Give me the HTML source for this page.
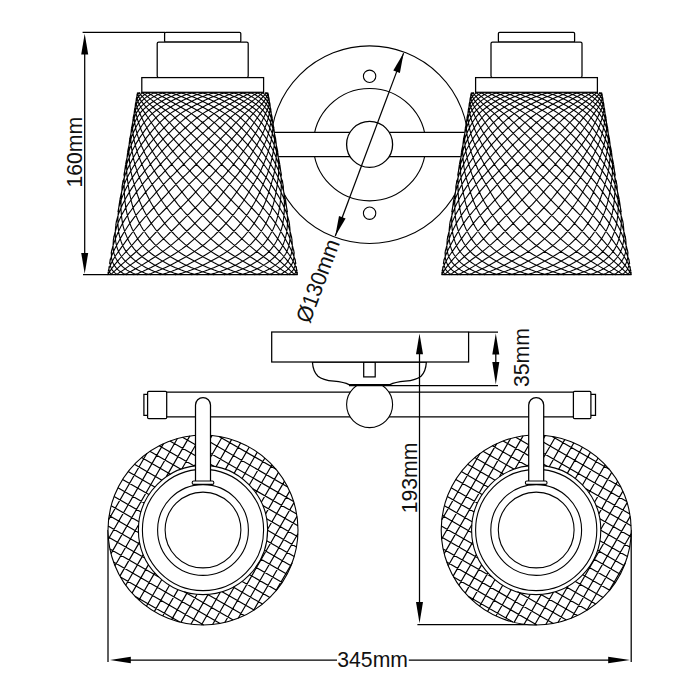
<!DOCTYPE html>
<html lang="en">
<head>
<meta charset="utf-8">
<title>Dimension drawing</title>
<style>
html,body{margin:0;padding:0;background:#fff;}
body{width:700px;height:700px;overflow:hidden;}
svg{display:block;}
</style>
</head>
<body>
<svg width="700" height="700" viewBox="0 0 700 700">
<rect width="700" height="700" fill="#fff"/>
<g fill="none" stroke="#000" stroke-width="1.25" stroke-linecap="butt" stroke-linejoin="miter">
<circle stroke-width="1.1" cx="369.6" cy="144.7" r="98.8"/>
<circle stroke-width="1.1" cx="369.6" cy="144.7" r="56.2"/>
<rect x="270" y="132.3" width="200" height="24.3" fill="#fff" stroke="none"/>
<path d="M270,132.3H470M270,156.6H470"/>
<circle stroke-width="1.3" cx="369.6" cy="144.4" r="23" fill="#fff"/>
<circle stroke-width="1.1" cx="369.6" cy="76.3" r="6.2"/>
<circle stroke-width="1.1" cx="369.6" cy="213.2" r="6.2"/>
<path d="M403.6,53.1L335.3,236"/>
<g>
<path d="M137.3,92.5 L268.1,92.5 L297.7,274.7 L107.7,274.7 Z" fill="#fff" stroke="none"/>
<path stroke="#000" stroke-width="1.1" d="M108.1,272 108.1,274.3 108.5,274.7M109.1,266.2 108.9,268.8 109.3,271.3 110.3,273.4 112,274.7M110.3,258.9 110,261.1 110,262.8 110.2,264.4 110.5,265.9 110.9,267.4 111.5,268.8 112.3,270.1 114.3,272.3 115.4,273.4 116.8,274.3 118.2,274.7M111.8,249.5 111.5,251.4 111.4,253.5 111.4,255.5 111.5,257.5 111.8,259.3 112.3,261.1 112.9,262.8 113.7,264.4 114.7,265.9 115.8,267.4 117,268.8 118.4,270.1 119.8,271.3 121.5,272.3 123.2,273.4 125,274.3 127,274.7M113.9,236.7 113.6,238.6 113.3,241.4 113.1,244.2 113.1,246.7 113.2,249.1 113.5,251.4 114,253.5 114.6,255.5 115.4,257.5 116.4,259.3 117.5,261.1 118.7,262.8 120.1,264.4 121.7,265.9 123.3,267.4 125.1,268.8 127,270.1 129,271.3 131.1,272.3 133.4,273.4 135.7,274.3 138.1,274.7M116.5,220.5 116.1,223.1 115.7,226.3 115.4,229.5 115.3,232.5 115.3,235.6 115.4,238.6 115.7,241.4 116.2,244.2 116.8,246.7 117.6,249.1 118.5,251.4 119.5,253.5 120.8,255.5 122.2,257.5 123.7,259.3 125.4,261.1 127.2,262.8 129.1,264.4 131.2,265.9 133.4,267.4 135.6,268.8 138,270.1 140.5,271.3 143,272.3 145.6,273.4 148.3,274.3 151.1,274.7M119.9,199.8 119.2,204.3 118.8,207.4 118.5,210.5 118.2,213.6 118,216.7 117.9,219.9 117.9,223.1 118.1,226.3 118.4,229.5 118.8,232.5 119.4,235.6 120.2,238.6 121.1,241.4 122.1,244.2 123.3,246.7 124.6,249.1 126.1,251.4 127.8,253.5 129.6,255.5 131.5,257.5 133.6,259.3 135.7,261.1 138,262.8 140.5,264.4 143,265.9 145.6,267.4 148.2,268.8 151,270.1 153.8,271.3 156.7,272.3 159.7,273.4 162.7,274.3 165.7,274.7M123,180.3 122.7,182.7 122.3,185.6 122,188.6 121.7,191.7 121.4,194.9 121.2,198 121.1,201.2 121,204.3 121,207.4 121.1,210.5 121.3,213.6 121.6,216.7 122,219.9 122.5,223.1 123.2,226.3 124.1,229.5 125.1,232.5 126.3,235.6 127.6,238.6 129.1,241.4 130.7,244.2 132.4,246.7 134.3,249.1 136.3,251.4 138.4,253.5 140.7,255.5 143.1,257.5 145.6,259.3 148.2,261.1 150.9,262.8 153.7,264.4 156.6,265.9 159.5,267.4 162.5,268.8 165.6,270.1 168.7,271.3 171.8,272.3 175,273.4 178.2,274.3 181.4,274.7M125.6,164.3 125.3,166.5 124.9,169.2 124.6,171.9 124.4,174.6 124.3,177.2 124.2,179.9 124.2,182.7 124.2,185.6 124.2,188.6 124.3,191.7 124.5,194.9 124.7,198 125,201.2 125.4,204.3 125.8,207.4 126.4,210.5 127,213.6 127.8,216.7 128.7,219.9 129.8,223.1 131,226.3 132.4,229.5 134,232.5 135.7,235.6 137.5,238.6 139.5,241.4 141.6,244.2 143.8,246.7 146.2,249.1 148.6,251.4 151.2,253.5 153.9,255.5 156.7,257.5 159.5,259.3 162.5,261.1 165.5,262.8 168.6,264.4 171.7,265.9 174.9,267.4 178.1,268.8 181.3,270.1 184.6,271.3 187.8,272.3 191.1,273.4 194.4,274.3 197.7,274.7M127.9,150.2 127.5,153.4 127.2,156 127,158.6 126.8,161.2 126.7,163.9 126.7,166.5 126.7,169.2 126.8,171.9 126.9,174.6 127.2,177.2 127.5,179.9 127.9,182.7 128.3,185.6 128.8,188.6 129.3,191.7 129.9,194.9 130.6,198 131.3,201.2 132.1,204.3 133,207.4 134,210.5 135.2,213.6 136.5,216.7 137.9,219.9 139.4,223.1 141.1,226.3 143,229.5 145.1,232.5 147.3,235.6 149.6,238.6 152,241.4 154.5,244.2 157.2,246.7 159.9,249.1 162.7,251.4 165.6,253.5 168.6,255.5 171.7,257.5 174.8,259.3 178,261.1 181.2,262.8 184.5,264.4 187.8,265.9 191.1,267.4 194.4,268.8 197.7,270.1 201,271.3 204.3,272.3 207.6,273.4 210.9,274.3 214.2,274.7M129.9,138.2 129.5,141.1 129.2,143.4 129.1,145.9 129,148.3 128.9,150.8 129,153.4 129.1,156 129.3,158.6 129.5,161.2 129.8,163.9 130.1,166.5 130.5,169.2 131,171.9 131.6,174.6 132.2,177.2 133,179.9 133.8,182.7 134.6,185.6 135.5,188.6 136.5,191.7 137.5,194.9 138.6,198 139.7,201.2 141,204.3 142.4,207.4 143.9,210.5 145.5,213.6 147.2,216.7 149.1,219.9 151.1,223.1 153.3,226.3 155.6,229.5 158.1,232.5 160.7,235.6 163.4,238.6 166.2,241.4 169.1,244.2 172,246.7 175,249.1 178.1,251.4 181.3,253.5 184.5,255.5 187.7,257.5 191,259.3 194.3,261.1 197.6,262.8 201,264.4 204.3,265.9 207.6,267.4 210.9,268.8 214.2,270.1 217.5,271.3 220.8,272.3 224,273.4 227.2,274.3 230.4,274.7M131.7,127.1 131.3,129.7 131.1,131.9 130.9,134.2 130.9,136.4 130.9,138.7 130.9,141.1 131.1,143.4 131.3,145.9 131.6,148.3 132,150.8 132.5,153.4 133,156 133.5,158.6 134.1,161.2 134.8,163.9 135.6,166.5 136.4,169.2 137.3,171.9 138.2,174.6 139.3,177.2 140.4,179.9 141.6,182.7 142.9,185.6 144.2,188.6 145.6,191.7 147,194.9 148.5,198 150.1,201.2 151.8,204.3 153.7,207.4 155.6,210.5 157.6,213.6 159.8,216.7 162.1,219.9 164.5,223.1 167.1,226.3 169.8,229.5 172.6,232.5 175.5,235.6 178.5,238.6 181.6,241.4 184.7,244.2 187.8,246.7 191.1,249.1 194.3,251.4 197.6,253.5 200.9,255.5 204.2,257.5 207.6,259.3 210.9,261.1 214.2,262.8 217.5,264.4 220.8,265.9 224,267.4 227.2,268.8 230.4,270.1 233.6,271.3 236.7,272.3 239.7,273.4 242.7,274.3 245.7,274.7M133.3,117.3 133,119.3 132.8,121.3 132.7,123.2 132.6,125.3 132.6,127.5 132.7,129.7 132.9,131.9 133.1,134.2 133.5,136.4 133.9,138.7 134.3,141.1 134.9,143.4 135.5,145.9 136.2,148.3 137,150.8 137.8,153.4 138.7,156 139.7,158.6 140.7,161.2 141.7,163.9 142.9,166.5 144,169.2 145.3,171.9 146.7,174.6 148.1,177.2 149.6,179.9 151.2,182.7 152.9,185.6 154.6,188.6 156.4,191.7 158.2,194.9 160.1,198 162.1,201.2 164.2,204.3 166.5,207.4 168.8,210.5 171.2,213.6 173.8,216.7 176.4,219.9 179.2,223.1 182.1,226.3 185.1,229.5 188.1,232.5 191.2,235.6 194.4,238.6 197.6,241.4 200.9,244.2 204.2,246.7 207.5,249.1 210.8,251.4 214.1,253.5 217.4,255.5 220.7,257.5 224,259.3 227.2,261.1 230.4,262.8 233.6,264.4 236.7,265.9 239.8,267.4 242.8,268.8 245.7,270.1 248.7,271.3 251.5,272.3 254.3,273.4 257,274.3 259.7,274.7M134.5,109.9 134.2,112.6 134.2,115.7 134.2,117.5 134.3,119.3 134.5,121.3 134.8,123.2 135.2,125.3 135.6,127.5 136,129.7 136.6,131.9 137.2,134.2 137.9,136.4 138.7,138.7 139.6,141.1 140.5,143.4 141.5,145.9 142.6,148.3 143.7,150.8 144.9,153.4 146.2,156 147.5,158.6 148.9,161.2 150.3,163.9 151.8,166.5 153.3,169.2 155,171.9 156.7,174.6 158.5,177.2 160.3,179.9 162.3,182.7 164.3,185.6 166.4,188.6 168.5,191.7 170.7,194.9 173,198 175.4,201.2 177.8,204.3 180.4,207.4 183,210.5 185.8,213.6 188.7,216.7 191.6,219.9 194.6,223.1 197.7,226.3 200.9,229.5 204.1,232.5 207.3,235.6 210.6,238.6 213.9,241.4 217.2,244.2 220.5,246.7 223.7,249.1 227,251.4 230.2,253.5 233.4,255.5 236.6,257.5 239.7,259.3 242.7,261.1 245.7,262.8 248.7,264.4 251.5,265.9 254.3,267.4 257.1,268.8 259.7,270.1 262.3,271.3 264.9,272.3 267.3,273.4 269.7,274.3 272,274.7M135.4,104 135.2,106.2 135.3,108.7 135.6,111.2 136.2,114.1 136.6,115.7 137,117.5 137.5,119.3 138.1,121.3 138.8,123.2 139.5,125.3 140.3,127.5 141.1,129.7 142,131.9 143,134.2 144.1,136.4 145.3,138.7 146.5,141.1 147.8,143.4 149.1,145.9 150.6,148.3 152.1,150.8 153.6,153.4 155.2,156 156.9,158.6 158.6,161.2 160.3,163.9 162.1,166.5 164,169.2 166,171.9 168,174.6 170.1,177.2 172.3,179.9 174.5,182.7 176.9,185.6 179.2,188.6 181.7,191.7 184.2,194.9 186.7,198 189.4,201.2 192.2,204.3 195,207.4 197.9,210.5 200.9,213.6 204,216.7 207.1,219.9 210.3,223.1 213.5,226.3 216.8,229.5 220,232.5 223.3,235.6 226.5,238.6 229.8,241.4 233,244.2 236.2,246.7 239.3,249.1 242.4,251.4 245.5,253.5 248.5,255.5 251.4,257.5 254.2,259.3 257,261.1 259.7,262.8 262.3,264.4 264.8,265.9 267.3,267.4 269.7,268.8 272,270.1 274.2,271.3 276.3,272.3 278.4,273.4 280.4,274.3 282.2,274.7M136.3,98.8 136.1,100.6 136.2,102.8 136.5,105.1 137.2,107.5 138.1,109.9 139.4,112.6 140.1,114.1 140.8,115.7 141.6,117.5 142.5,119.3 143.4,121.3 144.5,123.2 145.5,125.3 146.7,127.5 147.9,129.7 149.1,131.9 150.5,134.2 151.9,136.4 153.4,138.7 154.9,141.1 156.5,143.4 158.2,145.9 159.9,148.3 161.7,150.8 163.6,153.4 165.5,156 167.4,158.6 169.4,161.2 171.5,163.9 173.6,166.5 175.7,169.2 178,171.9 180.3,174.6 182.6,177.2 185.1,179.9 187.6,182.7 190.1,185.6 192.8,188.6 195.4,191.7 198.2,194.9 201,198 203.9,201.2 206.8,204.3 209.9,207.4 213,210.5 216.1,213.6 219.3,216.7 222.5,219.9 225.8,223.1 229,226.3 232.2,229.5 235.4,232.5 238.5,235.6 241.7,238.6 244.7,241.4 247.8,244.2 250.8,246.7 253.7,249.1 256.5,251.4 259.3,253.5 262,255.5 264.6,257.5 267.1,259.3 269.5,261.1 271.8,262.8 274.1,264.4 276.2,265.9 278.3,267.4 280.2,268.8 282.1,270.1 283.9,271.3 285.6,272.3 287.1,273.4 288.6,274.3 290,274.7M137,94.6 136.9,96.7 137.1,98.6 137.7,100.6 138.5,102.8 139.6,105.1 141,107.5 142.6,109.9 143.6,111.2 144.6,112.6 145.6,114.1 146.7,115.7 147.9,117.5 149.1,119.3 150.4,121.3 151.7,123.2 153.1,125.3 154.6,127.5 156.1,129.7 157.7,131.9 159.3,134.2 161,136.4 162.8,138.7 164.6,141.1 166.5,143.4 168.5,145.9 170.5,148.3 172.5,150.8 174.6,153.4 176.8,156 179,158.6 181.2,161.2 183.5,163.9 185.8,166.5 188.2,169.2 190.7,171.9 193.2,174.6 195.7,177.2 198.4,179.9 201,182.7 203.8,185.6 206.6,188.6 209.4,191.7 212.3,194.9 215.3,198 218.3,201.2 221.4,204.3 224.5,207.4 227.7,210.5 230.9,213.6 234.1,216.7 237.3,219.9 240.5,223.1 243.6,226.3 246.7,229.5 249.7,232.5 252.6,235.6 255.5,238.6 258.3,241.4 261.1,244.2 263.8,246.7 266.4,249.1 268.9,251.4 271.3,253.5 273.6,255.5 275.8,257.5 277.9,259.3 279.9,261.1 281.8,262.8 283.6,264.4 285.3,265.9 286.9,267.4 288.4,268.8 289.8,270.1 291.1,271.3 292.2,272.3 293.3,273.4 295.2,274.7M137.3,92.5 137.8,94.3 138.4,95.9 139.2,97.6 140.3,99.6 141.7,101.7 143.4,103.9 145.3,106.2 146.4,107.5 147.5,108.7 148.7,109.9 150,111.2 151.3,112.6 152.7,114.1 154.1,115.7 155.6,117.5 157.1,119.3 158.7,121.3 160.3,123.2 162,125.3 163.7,127.5 165.5,129.7 167.4,131.9 169.3,134.2 171.3,136.4 173.3,138.7 175.4,141.1 177.5,143.4 179.7,145.9 181.9,148.3 184.1,150.8 186.4,153.4 188.8,156 191.1,158.6 193.6,161.2 196,163.9 198.5,166.5 201.1,169.2 203.7,171.9 206.4,174.6 209.1,177.2 211.8,179.9 214.6,182.7 217.4,185.6 220.3,188.6 223.2,191.7 226.2,194.9 229.2,198 232.3,201.2 235.4,204.3 238.5,207.4 241.6,210.5 244.7,213.6 247.8,216.7 250.9,219.9 253.9,223.1 256.8,226.3 259.7,229.5 262.4,232.5 265,235.6 267.6,238.6 270.1,241.4 272.5,244.2 274.8,246.7 277,249.1 279.1,251.4 281.1,253.5 282.9,255.5 284.7,257.5 286.3,259.3 287.8,261.1 289.2,262.8 290.5,264.4 291.7,265.9 292.8,267.4 293.8,268.8 294.7,270.1 296.2,272.3 297.3,274.3 297.5,274.7M138.4,92.5 139.8,93.6 140.9,95.1 142.4,96.7 144.1,98.6 146,100.6 147.1,101.7 148.2,102.8 149.4,103.9 150.7,105.1 152,106.2 153.4,107.5 154.8,108.7 156.3,109.9 157.9,111.2 159.5,112.6 161.1,114.1 162.8,115.7 164.6,117.5 166.3,119.3 168.2,121.3 170.1,123.2 172,125.3 174,127.5 176,129.7 178.1,131.9 180.2,134.2 182.4,136.4 184.6,138.7 186.8,141.1 189.1,143.4 191.5,145.9 193.8,148.3 196.2,150.8 198.7,153.4 201.1,156 203.6,158.6 206.2,161.2 208.7,163.9 211.4,166.5 214,169.2 216.7,171.9 219.4,174.6 222.2,177.2 225,179.9 227.8,182.7 230.6,185.6 233.5,188.6 236.4,191.7 239.3,194.9 242.3,198 245.3,201.2 248.3,204.3 251.3,207.4 254.3,210.5 257.2,213.6 260.1,216.7 262.9,219.9 265.7,223.1 268.3,226.3 270.8,229.5 273.1,232.5 275.4,235.6 277.6,238.6 279.7,241.4 281.6,244.2 283.5,246.7 285.2,249.1 286.8,251.4 288.3,253.5 289.7,255.5 290.9,257.5 292,259.3 293,261.1 293.9,262.8 294.7,264.4 295.4,265.9 296,267.4 296.9,270.1 297.2,271.6M141.3,92.5 142.8,93.1 144.6,94.3 146.6,95.9 148.8,97.6 150,98.6 151.2,99.6 152.6,100.6 153.9,101.7 155.4,102.8 156.9,103.9 158.4,105.1 160,106.2 161.7,107.5 163.4,108.7 165.1,109.9 166.9,111.2 168.8,112.6 170.7,114.1 172.6,115.7 174.6,117.5 176.6,119.3 178.6,121.3 180.7,123.2 182.8,125.3 185,127.5 187.2,129.7 189.4,131.9 191.7,134.2 194,136.4 196.4,138.7 198.7,141.1 201.1,143.4 203.6,145.9 206,148.3 208.5,150.8 211,153.4 213.5,156 216.1,158.6 218.7,161.2 221.3,163.9 223.9,166.5 226.6,169.2 229.3,171.9 232,174.6 234.8,177.2 237.5,179.9 240.2,182.7 243,185.6 245.7,188.6 248.6,191.7 251.4,194.9 254.3,198 257.1,201.2 259.9,204.3 262.6,207.4 265.4,210.5 268,213.6 270.6,216.7 273,219.9 275.4,223.1 277.6,226.3 279.6,229.5 281.6,232.5 283.4,235.6 285.1,238.6 286.7,241.4 288.2,244.2 289.5,246.7 290.7,249.1 291.8,251.4 292.7,253.5 293.6,255.5 294.3,257.5 294.9,259.3 295.4,261.1 295.7,262.8 295.9,263.8M145.8,92.5 148,93.1 150.4,94.3 153,95.9 154.4,96.7 155.9,97.6 157.4,98.6 158.9,99.6 160.5,100.6 162.1,101.7 163.8,102.8 165.6,103.9 167.4,105.1 169.2,106.2 171.1,107.5 173,108.7 175,109.9 177,111.2 179,112.6 181.1,114.1 183.2,115.7 185.3,117.5 187.5,119.3 189.7,121.3 191.9,123.2 194.2,125.3 196.5,127.5 198.8,129.7 201.1,131.9 203.5,134.2 205.9,136.4 208.3,138.7 210.7,141.1 213.2,143.4 215.6,145.9 218.1,148.3 220.6,150.8 223.1,153.4 225.6,156 228.2,158.6 230.7,161.2 233.3,163.9 235.9,166.5 238.6,169.2 241.2,171.9 243.8,174.6 246.4,177.2 249,179.9 251.6,182.7 254.2,185.6 256.8,188.6 259.4,191.7 262,194.9 264.6,198 267.2,201.2 269.7,204.3 272.1,207.4 274.4,210.5 276.7,213.6 278.8,216.7 280.8,219.9 282.7,223.1 284.4,226.3 286,229.5 287.4,232.5 288.7,235.6 289.9,238.6 290.9,241.4 291.9,244.2 292.7,246.7 293.3,249.1 293.9,251.4 294.3,253.5 294.3,253.6M152,92.5 154.8,93.1 156.2,93.6 157.7,94.3 159.3,95.1 160.9,95.9 162.5,96.7 164.2,97.6 166,98.6 167.7,99.6 169.6,100.6 171.4,101.7 173.4,102.8 175.3,103.9 177.3,105.1 179.3,106.2 181.4,107.5 183.5,108.7 185.6,109.9 187.7,111.2 189.9,112.6 192.1,114.1 194.3,115.7 196.6,117.5 198.8,119.3 201.1,121.3 203.5,123.2 205.8,125.3 208.1,127.5 210.5,129.7 212.9,131.9 215.3,134.2 217.7,136.4 220.1,138.7 222.5,141.1 224.9,143.4 227.4,145.9 229.8,148.3 232.2,150.8 234.7,153.4 237.1,156 239.6,158.6 242.1,161.2 244.5,163.9 247,166.5 249.5,169.2 252,171.9 254.4,174.6 256.9,177.2 259.2,179.9 261.6,182.7 263.9,185.6 266.3,188.6 268.6,191.7 270.9,194.9 273.1,198 275.3,201.2 277.4,204.3 279.4,207.4 281.2,210.5 283,213.6 284.6,216.7 286,219.9 287.4,223.1 288.5,226.3 289.5,229.5 290.4,232.5 291.2,235.6 291.8,238.6 292.2,240.9M159.5,92.5 161.1,92.7 162.8,93.1 164.5,93.6 166.2,94.3 168,95.1 169.9,95.9 171.7,96.7 173.6,97.6 175.6,98.6 177.5,99.6 179.6,100.6 181.6,101.7 183.7,102.8 185.8,103.9 187.9,105.1 190,106.2 192.2,107.5 194.4,108.7 196.6,109.9 198.9,111.2 201.1,112.6 203.4,114.1 205.7,115.7 208,117.5 210.3,119.3 212.6,121.3 214.9,123.2 217.3,125.3 219.6,127.5 222,129.7 224.4,131.9 226.7,134.2 229.1,136.4 231.4,138.7 233.8,141.1 236.1,143.4 238.4,145.9 240.8,148.3 243.1,150.8 245.4,153.4 247.7,156 250,158.6 252.3,161.2 254.6,163.9 256.9,166.5 259.2,169.2 261.4,171.9 263.6,174.6 265.8,177.2 267.9,179.9 269.9,182.7 271.9,185.6 273.9,188.6 275.8,191.7 277.7,194.9 279.5,198 281.2,201.2 282.8,204.3 284.2,207.4 285.5,210.5 286.7,213.6 287.7,216.7 288.6,219.9 289.3,223.1 289.7,225.7M168.2,92.5 170,92.7 171.9,93.1 173.8,93.6 175.8,94.3 177.7,95.1 179.7,95.9 181.8,96.7 183.8,97.6 185.9,98.6 188,99.6 190.2,100.6 192.3,101.7 194.5,102.8 196.7,103.9 198.9,105.1 201.1,106.2 203.4,107.5 205.6,108.7 207.9,109.9 210.1,111.2 212.4,112.6 214.7,114.1 217,115.7 219.2,117.5 221.5,119.3 223.8,121.3 226.1,123.2 228.4,125.3 230.7,127.5 233,129.7 235.2,131.9 237.5,134.2 239.8,136.4 242,138.7 244.2,141.1 246.4,143.4 248.6,145.9 250.7,148.3 252.8,150.8 254.9,153.4 257,156 259.1,158.6 261.2,161.2 263.3,163.9 265.3,166.5 267.3,169.2 269.2,171.9 271.1,174.6 272.9,177.2 274.6,179.9 276.3,182.7 277.9,185.6 279.4,188.6 280.9,191.7 282.3,194.9 283.6,198 284.7,201.2 285.7,204.3 286.6,207.4 287.2,210.5 287.5,212.1M177.8,92.5 179.8,92.7 181.9,93.1 183.9,93.6 186,94.3 188.1,95.1 190.2,95.9 192.4,96.7 194.5,97.6 196.7,98.6 198.9,99.6 201.1,100.6 203.3,101.7 205.5,102.8 207.8,103.9 210,105.1 212.2,106.2 214.5,107.5 216.7,108.7 219,109.9 221.2,111.2 223.4,112.6 225.6,114.1 227.8,115.7 230.1,117.5 232.3,119.3 234.5,121.3 236.7,123.2 238.8,125.3 241,127.5 243.1,129.7 245.3,131.9 247.4,134.2 249.4,136.4 251.5,138.7 253.5,141.1 255.5,143.4 257.4,145.9 259.4,148.3 261.2,150.8 263.1,153.4 264.9,156 266.7,158.6 268.5,161.2 270.3,163.9 272,166.5 273.6,169.2 275.2,171.9 276.6,174.6 278,177.2 279.3,179.9 280.5,182.7 281.7,185.6 282.7,188.6 283.7,191.7 284.5,194.9 285.2,198 285.6,199.9M188.2,92.5 190.3,92.7 192.4,93.1 194.6,93.6 196.7,94.3 198.9,95.1 201.1,95.9 203.3,96.7 205.5,97.6 207.7,98.6 209.9,99.6 212.1,100.6 214.3,101.7 216.5,102.8 218.7,103.9 220.9,105.1 223.1,106.2 225.3,107.5 227.4,108.7 229.6,109.9 231.7,111.2 233.9,112.6 236,114.1 238.1,115.7 240.1,117.5 242.2,119.3 244.3,121.3 246.3,123.2 248.3,125.3 250.3,127.5 252.2,129.7 254.1,131.9 256,134.2 257.9,136.4 259.7,138.7 261.4,141.1 263.2,143.4 264.8,145.9 266.5,148.3 268.1,150.8 269.6,153.4 271.1,156 272.6,158.6 274,161.2 275.4,163.9 276.7,166.5 278,169.2 279.1,171.9 280.1,174.6 281,177.2 281.9,179.9 282.6,182.7 283.2,185.6 283.5,187.5M198.9,92.5 201.1,92.7 203.3,93.1 205.4,93.6 207.6,94.3 209.8,95.1 212,95.9 214.2,96.7 216.4,97.6 218.5,98.6 220.7,99.6 222.8,100.6 225,101.7 227.1,102.8 229.2,103.9 231.3,105.1 233.4,106.2 235.5,107.5 237.5,108.7 239.5,109.9 241.5,111.2 243.5,112.6 245.4,114.1 247.3,115.7 249.2,117.5 251.1,119.3 252.9,121.3 254.7,123.2 256.5,125.3 258.3,127.5 260,129.7 261.6,131.9 263.2,134.2 264.8,136.4 266.3,138.7 267.8,141.1 269.2,143.4 270.6,145.9 271.9,148.3 273.2,150.8 274.4,153.4 275.5,156 276.6,158.6 277.6,161.2 278.6,163.9 279.5,166.5 280.2,169.2 280.9,171.9 281.4,174.6 281.6,175.6M209.7,92.5 211.9,92.7 214.1,93.1 216.2,93.6 218.4,94.3 220.5,95.1 222.6,95.9 224.7,96.7 226.8,97.6 228.9,98.6 231,99.6 233,100.6 235.1,101.7 237.1,102.8 239,103.9 241,105.1 242.9,106.2 244.8,107.5 246.6,108.7 248.4,109.9 250.2,111.2 252,112.6 253.7,114.1 255.4,115.7 257,117.5 258.6,119.3 260.2,121.3 261.8,123.2 263.3,125.3 264.7,127.5 266.2,129.7 267.5,131.9 268.8,134.2 270.1,136.4 271.3,138.7 272.4,141.1 273.5,143.4 274.5,145.9 275.5,148.3 276.3,150.8 277.2,153.4 277.9,156 278.6,158.6 279.2,161.2 279.7,163.9 279.7,164.1M220.4,92.5 222.5,92.7 224.6,93.1 226.6,93.6 228.7,94.3 230.7,95.1 232.7,95.9 234.7,96.7 236.7,97.6 238.6,98.6 240.5,99.6 242.4,100.6 244.2,101.7 246.1,102.8 247.8,103.9 249.6,105.1 251.3,106.2 252.9,107.5 254.5,108.7 256.1,109.9 257.6,111.2 259.1,112.6 260.6,114.1 262,115.7 263.4,117.5 264.7,119.3 266,121.3 267.2,123.2 268.4,125.3 269.6,127.5 270.7,129.7 271.7,131.9 272.7,134.2 273.6,136.4 274.4,138.7 275.2,141.1 275.9,143.4 276.5,145.9 277.1,148.3 277.6,150.8 277.8,152.1M230.6,92.5 232.5,92.7 234.5,93.1 236.4,93.6 238.3,94.3 240.2,95.1 242,95.9 243.8,96.7 245.6,97.6 247.3,98.6 249,99.6 250.7,100.6 252.3,101.7 253.9,102.8 255.4,103.9 256.9,105.1 258.3,106.2 259.7,107.5 261.1,108.7 262.4,109.9 263.6,111.2 264.8,112.6 265.9,114.1 267,115.7 268.1,117.5 269.1,119.3 270.1,121.3 271,123.2 271.8,125.3 272.6,127.5 273.4,129.7 274,131.9 274.6,134.2 275.1,136.4 275.6,138.7 275.8,140M239.9,92.5 241.7,92.7 243.5,93.1 245.2,93.6 246.9,94.3 248.6,95.1 250.2,95.9 251.8,96.7 253.3,97.6 254.8,98.6 256.3,99.6 257.7,100.6 259,101.7 260.3,102.8 261.6,103.9 262.8,105.1 263.9,106.2 265,107.5 266,108.7 267,109.9 267.9,111.2 268.7,112.6 269.6,114.1 270.3,115.7 271,117.5 271.7,119.3 272.3,121.3 272.9,123.2 273.3,125.3 273.8,127.5 274,128.6M248.3,92.5 249.9,92.7 251.4,93.1 252.9,93.6 254.3,94.3 255.7,95.1 257.1,95.9 258.4,96.7 259.7,97.6 260.9,98.6 262,99.6 263.1,100.6 265.2,102.8 267,105.1 268.5,107.5 269.9,109.9 270.9,112.6 271.4,114.1 271.8,115.7 272.2,117.5 272.3,118.4M255.4,92.5 258,93.1 260.3,94.3 262.5,95.9 264.4,97.6 266.2,99.6 267.7,101.7 268.9,103.9 269.9,106.2 270.7,108.7 271,110.4M261.1,92.5 263,93.1 264.7,94.3 266.3,95.9 267.5,97.6 268.6,99.6 269.4,101.7 270,103.9 270,104.3M265.2,92.5 267,93.6 267.9,95.1 268.6,96.7 269.1,98.6 269.1,98.8M267.5,92.5 268.4,94.3 268.4,94.4M137.9,92.5 137,94.3 137,94.4M140.2,92.5 138.4,93.6 137.5,95.1 136.8,96.7 136.3,98.6 136.3,98.8M144.3,92.5 142.4,93.1 140.7,94.3 139.1,95.9 137.9,97.6 136.8,99.6 136,101.7 135.4,103.9 135.4,104.3M150,92.5 147.4,93.1 145.1,94.3 142.9,95.9 141,97.6 139.2,99.6 137.7,101.7 136.5,103.9 135.5,106.2 134.7,108.7 134.4,110.4M157.1,92.5 155.5,92.7 154,93.1 152.5,93.6 151.1,94.3 149.7,95.1 148.3,95.9 147,96.7 145.7,97.6 144.5,98.6 143.4,99.6 142.3,100.6 140.2,102.8 138.4,105.1 136.9,107.5 135.5,109.9 134.5,112.6 134,114.1 133.6,115.7 133.2,117.5 133.1,118.4M165.5,92.5 163.7,92.7 161.9,93.1 160.2,93.6 158.5,94.3 156.8,95.1 155.2,95.9 153.6,96.7 152.1,97.6 150.6,98.6 149.1,99.6 147.7,100.6 146.4,101.7 145.1,102.8 143.8,103.9 142.6,105.1 141.5,106.2 140.4,107.5 139.4,108.7 138.4,109.9 137.5,111.2 136.7,112.6 135.8,114.1 135.1,115.7 134.4,117.5 133.7,119.3 133.1,121.3 132.5,123.2 132.1,125.3 131.6,127.5 131.4,128.6M174.8,92.5 172.9,92.7 170.9,93.1 169,93.6 167.1,94.3 165.2,95.1 163.4,95.9 161.6,96.7 159.8,97.6 158.1,98.6 156.4,99.6 154.7,100.6 153.1,101.7 151.5,102.8 150,103.9 148.5,105.1 147.1,106.2 145.7,107.5 144.3,108.7 143,109.9 141.8,111.2 140.6,112.6 139.5,114.1 138.4,115.7 137.3,117.5 136.3,119.3 135.3,121.3 134.4,123.2 133.6,125.3 132.8,127.5 132,129.7 131.4,131.9 130.8,134.2 130.3,136.4 129.8,138.7 129.6,140M185,92.5 182.9,92.7 180.8,93.1 178.8,93.6 176.7,94.3 174.7,95.1 172.7,95.9 170.7,96.7 168.7,97.6 166.8,98.6 164.9,99.6 163,100.6 161.2,101.7 159.3,102.8 157.6,103.9 155.8,105.1 154.1,106.2 152.5,107.5 150.9,108.7 149.3,109.9 147.8,111.2 146.3,112.6 144.8,114.1 143.4,115.7 142,117.5 140.7,119.3 139.4,121.3 138.2,123.2 137,125.3 135.8,127.5 134.7,129.7 133.7,131.9 132.7,134.2 131.8,136.4 131,138.7 130.2,141.1 129.5,143.4 128.9,145.9 128.3,148.3 127.8,150.8 127.6,152.1M195.7,92.5 193.5,92.7 191.3,93.1 189.2,93.6 187,94.3 184.9,95.1 182.8,95.9 180.7,96.7 178.6,97.6 176.5,98.6 174.4,99.6 172.4,100.6 170.3,101.7 168.3,102.8 166.4,103.9 164.4,105.1 162.5,106.2 160.6,107.5 158.8,108.7 157,109.9 155.2,111.2 153.4,112.6 151.7,114.1 150,115.7 148.4,117.5 146.8,119.3 145.2,121.3 143.6,123.2 142.1,125.3 140.7,127.5 139.2,129.7 137.9,131.9 136.6,134.2 135.3,136.4 134.1,138.7 133,141.1 131.9,143.4 130.9,145.9 129.9,148.3 129.1,150.8 128.2,153.4 127.5,156 126.8,158.6 126.2,161.2 125.7,163.9 125.7,164.1M206.5,92.5 204.3,92.7 202.1,93.1 200,93.6 197.8,94.3 195.6,95.1 193.4,95.9 191.2,96.7 189,97.6 186.9,98.6 184.7,99.6 182.6,100.6 180.4,101.7 178.3,102.8 176.2,103.9 174.1,105.1 172,106.2 169.9,107.5 167.9,108.7 165.9,109.9 163.9,111.2 161.9,112.6 160,114.1 158.1,115.7 156.2,117.5 154.3,119.3 152.5,121.3 150.7,123.2 148.9,125.3 147.1,127.5 145.4,129.7 143.8,131.9 142.2,134.2 140.6,136.4 139.1,138.7 137.6,141.1 136.2,143.4 134.8,145.9 133.5,148.3 132.2,150.8 131,153.4 129.9,156 128.8,158.6 127.8,161.2 126.8,163.9 125.9,166.5 125.2,169.2 124.5,171.9 124,174.6 123.8,175.6M217.2,92.5 215.1,92.7 213,93.1 210.8,93.6 208.7,94.3 206.5,95.1 204.3,95.9 202.1,96.7 199.9,97.6 197.7,98.6 195.5,99.6 193.3,100.6 191.1,101.7 188.9,102.8 186.7,103.9 184.5,105.1 182.3,106.2 180.1,107.5 178,108.7 175.8,109.9 173.7,111.2 171.5,112.6 169.4,114.1 167.3,115.7 165.3,117.5 163.2,119.3 161.1,121.3 159.1,123.2 157.1,125.3 155.1,127.5 153.2,129.7 151.3,131.9 149.4,134.2 147.5,136.4 145.7,138.7 144,141.1 142.2,143.4 140.6,145.9 138.9,148.3 137.3,150.8 135.8,153.4 134.3,156 132.8,158.6 131.4,161.2 130,163.9 128.7,166.5 127.4,169.2 126.3,171.9 125.3,174.6 124.4,177.2 123.5,179.9 122.8,182.7 122.2,185.6 121.9,187.5M227.6,92.5 225.6,92.7 223.5,93.1 221.5,93.6 219.4,94.3 217.3,95.1 215.2,95.9 213,96.7 210.9,97.6 208.7,98.6 206.5,99.6 204.3,100.6 202.1,101.7 199.9,102.8 197.6,103.9 195.4,105.1 193.2,106.2 190.9,107.5 188.7,108.7 186.4,109.9 184.2,111.2 182,112.6 179.8,114.1 177.6,115.7 175.3,117.5 173.1,119.3 170.9,121.3 168.7,123.2 166.6,125.3 164.4,127.5 162.3,129.7 160.1,131.9 158,134.2 156,136.4 153.9,138.7 151.9,141.1 149.9,143.4 148,145.9 146,148.3 144.2,150.8 142.3,153.4 140.5,156 138.7,158.6 136.9,161.2 135.1,163.9 133.4,166.5 131.8,169.2 130.2,171.9 128.8,174.6 127.4,177.2 126.1,179.9 124.9,182.7 123.7,185.6 122.7,188.6 121.7,191.7 120.9,194.9 120.2,198 119.8,199.9M237.2,92.5 235.4,92.7 233.5,93.1 231.6,93.6 229.6,94.3 227.7,95.1 225.7,95.9 223.6,96.7 221.6,97.6 219.5,98.6 217.4,99.6 215.2,100.6 213.1,101.7 210.9,102.8 208.7,103.9 206.5,105.1 204.3,106.2 202,107.5 199.8,108.7 197.5,109.9 195.3,111.2 193,112.6 190.7,114.1 188.4,115.7 186.2,117.5 183.9,119.3 181.6,121.3 179.3,123.2 177,125.3 174.7,127.5 172.4,129.7 170.2,131.9 167.9,134.2 165.6,136.4 163.4,138.7 161.2,141.1 159,143.4 156.8,145.9 154.7,148.3 152.6,150.8 150.5,153.4 148.4,156 146.3,158.6 144.2,161.2 142.1,163.9 140.1,166.5 138.1,169.2 136.2,171.9 134.3,174.6 132.5,177.2 130.8,179.9 129.1,182.7 127.5,185.6 126,188.6 124.5,191.7 123.1,194.9 121.8,198 120.7,201.2 119.7,204.3 118.8,207.4 118.2,210.5 117.9,212.1M245.9,92.5 244.3,92.7 242.6,93.1 240.9,93.6 239.2,94.3 237.4,95.1 235.5,95.9 233.7,96.7 231.8,97.6 229.8,98.6 227.9,99.6 225.8,100.6 223.8,101.7 221.7,102.8 219.6,103.9 217.5,105.1 215.4,106.2 213.2,107.5 211,108.7 208.8,109.9 206.5,111.2 204.3,112.6 202,114.1 199.7,115.7 197.4,117.5 195.1,119.3 192.8,121.3 190.5,123.2 188.1,125.3 185.8,127.5 183.4,129.7 181,131.9 178.7,134.2 176.3,136.4 174,138.7 171.6,141.1 169.3,143.4 167,145.9 164.6,148.3 162.3,150.8 160,153.4 157.7,156 155.4,158.6 153.1,161.2 150.8,163.9 148.5,166.5 146.2,169.2 144,171.9 141.8,174.6 139.6,177.2 137.5,179.9 135.5,182.7 133.5,185.6 131.5,188.6 129.6,191.7 127.7,194.9 125.9,198 124.2,201.2 122.6,204.3 121.2,207.4 119.9,210.5 118.7,213.6 117.7,216.7 116.8,219.9 116.1,223.1 115.7,225.7M253.4,92.5 250.6,93.1 249.2,93.6 247.7,94.3 246.1,95.1 244.5,95.9 242.9,96.7 241.2,97.6 239.4,98.6 237.7,99.6 235.8,100.6 234,101.7 232,102.8 230.1,103.9 228.1,105.1 226.1,106.2 224,107.5 221.9,108.7 219.8,109.9 217.7,111.2 215.5,112.6 213.3,114.1 211.1,115.7 208.8,117.5 206.6,119.3 204.3,121.3 201.9,123.2 199.6,125.3 197.3,127.5 194.9,129.7 192.5,131.9 190.1,134.2 187.7,136.4 185.3,138.7 182.9,141.1 180.5,143.4 178,145.9 175.6,148.3 173.2,150.8 170.7,153.4 168.3,156 165.8,158.6 163.3,161.2 160.9,163.9 158.4,166.5 155.9,169.2 153.4,171.9 151,174.6 148.5,177.2 146.2,179.9 143.8,182.7 141.5,185.6 139.1,188.6 136.8,191.7 134.5,194.9 132.3,198 130.1,201.2 128,204.3 126,207.4 124.2,210.5 122.4,213.6 120.8,216.7 119.4,219.9 118,223.1 116.9,226.3 115.9,229.5 115,232.5 114.2,235.6 113.6,238.6 113.2,240.9M259.6,92.5 257.4,93.1 255,94.3 252.4,95.9 251,96.7 249.5,97.6 248,98.6 246.5,99.6 244.9,100.6 243.3,101.7 241.6,102.8 239.8,103.9 238,105.1 236.2,106.2 234.3,107.5 232.4,108.7 230.4,109.9 228.4,111.2 226.4,112.6 224.3,114.1 222.2,115.7 220.1,117.5 217.9,119.3 215.7,121.3 213.5,123.2 211.2,125.3 208.9,127.5 206.6,129.7 204.3,131.9 201.9,134.2 199.5,136.4 197.1,138.7 194.7,141.1 192.2,143.4 189.8,145.9 187.3,148.3 184.8,150.8 182.3,153.4 179.8,156 177.2,158.6 174.7,161.2 172.1,163.9 169.5,166.5 166.8,169.2 164.2,171.9 161.6,174.6 159,177.2 156.4,179.9 153.8,182.7 151.2,185.6 148.6,188.6 146,191.7 143.4,194.9 140.8,198 138.2,201.2 135.7,204.3 133.3,207.4 131,210.5 128.7,213.6 126.6,216.7 124.6,219.9 122.7,223.1 121,226.3 119.4,229.5 118,232.5 116.7,235.6 115.5,238.6 114.5,241.4 113.5,244.2 112.7,246.7 112.1,249.1 111.5,251.4 111.1,253.5 111.1,253.6M264.1,92.5 262.6,93.1 260.8,94.3 258.8,95.9 256.6,97.6 255.4,98.6 254.2,99.6 252.8,100.6 251.5,101.7 250,102.8 248.5,103.9 247,105.1 245.4,106.2 243.7,107.5 242,108.7 240.3,109.9 238.5,111.2 236.6,112.6 234.7,114.1 232.8,115.7 230.8,117.5 228.8,119.3 226.8,121.3 224.7,123.2 222.6,125.3 220.4,127.5 218.2,129.7 216,131.9 213.7,134.2 211.4,136.4 209,138.7 206.7,141.1 204.3,143.4 201.8,145.9 199.4,148.3 196.9,150.8 194.4,153.4 191.9,156 189.3,158.6 186.7,161.2 184.1,163.9 181.5,166.5 178.8,169.2 176.1,171.9 173.4,174.6 170.6,177.2 167.9,179.9 165.2,182.7 162.4,185.6 159.7,188.6 156.8,191.7 154,194.9 151.1,198 148.3,201.2 145.5,204.3 142.8,207.4 140,210.5 137.4,213.6 134.8,216.7 132.4,219.9 130,223.1 127.8,226.3 125.8,229.5 123.8,232.5 122,235.6 120.3,238.6 118.7,241.4 117.2,244.2 115.9,246.7 114.7,249.1 113.6,251.4 112.7,253.5 111.8,255.5 111.1,257.5 110.5,259.3 110,261.1 109.7,262.8 109.5,263.8M267,92.5 265.6,93.6 264.5,95.1 263,96.7 261.3,98.6 259.4,100.6 258.3,101.7 257.2,102.8 256,103.9 254.7,105.1 253.4,106.2 252,107.5 250.6,108.7 249.1,109.9 247.5,111.2 245.9,112.6 244.3,114.1 242.6,115.7 240.8,117.5 239.1,119.3 237.2,121.3 235.3,123.2 233.4,125.3 231.4,127.5 229.4,129.7 227.3,131.9 225.2,134.2 223,136.4 220.8,138.7 218.6,141.1 216.3,143.4 213.9,145.9 211.6,148.3 209.2,150.8 206.7,153.4 204.3,156 201.8,158.6 199.2,161.2 196.7,163.9 194,166.5 191.4,169.2 188.7,171.9 186,174.6 183.2,177.2 180.4,179.9 177.6,182.7 174.8,185.6 171.9,188.6 169,191.7 166.1,194.9 163.1,198 160.1,201.2 157.1,204.3 154.1,207.4 151.1,210.5 148.2,213.6 145.3,216.7 142.5,219.9 139.7,223.1 137.1,226.3 134.6,229.5 132.3,232.5 130,235.6 127.8,238.6 125.7,241.4 123.8,244.2 121.9,246.7 120.2,249.1 118.6,251.4 117.1,253.5 115.7,255.5 114.5,257.5 113.4,259.3 112.4,261.1 111.5,262.8 110.7,264.4 110,265.9 109.4,267.4 108.5,270.1 108.2,271.6M268.1,92.5 267.6,94.3 267,95.9 266.2,97.6 265.1,99.6 263.7,101.7 262,103.9 260.1,106.2 259,107.5 257.9,108.7 256.7,109.9 255.4,111.2 254.1,112.6 252.7,114.1 251.3,115.7 249.8,117.5 248.3,119.3 246.7,121.3 245.1,123.2 243.4,125.3 241.7,127.5 239.9,129.7 238,131.9 236.1,134.2 234.1,136.4 232.1,138.7 230,141.1 227.9,143.4 225.7,145.9 223.5,148.3 221.3,150.8 219,153.4 216.6,156 214.3,158.6 211.8,161.2 209.4,163.9 206.9,166.5 204.3,169.2 201.7,171.9 199,174.6 196.3,177.2 193.6,179.9 190.8,182.7 188,185.6 185.1,188.6 182.2,191.7 179.2,194.9 176.2,198 173.1,201.2 170,204.3 166.9,207.4 163.8,210.5 160.7,213.6 157.6,216.7 154.5,219.9 151.5,223.1 148.6,226.3 145.7,229.5 143,232.5 140.4,235.6 137.8,238.6 135.3,241.4 132.9,244.2 130.6,246.7 128.4,249.1 126.3,251.4 124.3,253.5 122.5,255.5 120.7,257.5 119.1,259.3 117.6,261.1 116.2,262.8 114.9,264.4 113.7,265.9 112.6,267.4 111.6,268.8 110.7,270.1 109.2,272.3 108.1,274.3 107.9,274.7M268.4,94.6 268.5,96.7 268.3,98.6 267.7,100.6 266.9,102.8 265.8,105.1 264.4,107.5 262.8,109.9 261.8,111.2 260.8,112.6 259.8,114.1 258.7,115.7 257.5,117.5 256.3,119.3 255,121.3 253.7,123.2 252.3,125.3 250.8,127.5 249.3,129.7 247.7,131.9 246.1,134.2 244.4,136.4 242.6,138.7 240.8,141.1 238.9,143.4 236.9,145.9 234.9,148.3 232.9,150.8 230.8,153.4 228.6,156 226.4,158.6 224.2,161.2 221.9,163.9 219.6,166.5 217.2,169.2 214.7,171.9 212.2,174.6 209.7,177.2 207,179.9 204.4,182.7 201.6,185.6 198.8,188.6 196,191.7 193.1,194.9 190.1,198 187.1,201.2 184,204.3 180.9,207.4 177.7,210.5 174.5,213.6 171.3,216.7 168.1,219.9 164.9,223.1 161.8,226.3 158.7,229.5 155.7,232.5 152.8,235.6 149.9,238.6 147.1,241.4 144.3,244.2 141.6,246.7 139,249.1 136.5,251.4 134.1,253.5 131.8,255.5 129.6,257.5 127.5,259.3 125.5,261.1 123.6,262.8 121.8,264.4 120.1,265.9 118.5,267.4 117,268.8 115.6,270.1 114.3,271.3 113.2,272.3 112.1,273.4 110.2,274.7M269.1,98.8 269.3,100.6 269.2,102.8 268.9,105.1 268.2,107.5 267.3,109.9 266,112.6 265.3,114.1 264.6,115.7 263.8,117.5 262.9,119.3 262,121.3 260.9,123.2 259.9,125.3 258.7,127.5 257.5,129.7 256.3,131.9 254.9,134.2 253.5,136.4 252,138.7 250.5,141.1 248.9,143.4 247.2,145.9 245.5,148.3 243.7,150.8 241.8,153.4 239.9,156 238,158.6 236,161.2 233.9,163.9 231.8,166.5 229.7,169.2 227.4,171.9 225.1,174.6 222.8,177.2 220.3,179.9 217.8,182.7 215.3,185.6 212.6,188.6 210,191.7 207.2,194.9 204.4,198 201.5,201.2 198.6,204.3 195.5,207.4 192.4,210.5 189.3,213.6 186.1,216.7 182.9,219.9 179.6,223.1 176.4,226.3 173.2,229.5 170,232.5 166.9,235.6 163.7,238.6 160.7,241.4 157.6,244.2 154.6,246.7 151.7,249.1 148.9,251.4 146.1,253.5 143.4,255.5 140.8,257.5 138.3,259.3 135.9,261.1 133.6,262.8 131.3,264.4 129.2,265.9 127.1,267.4 125.2,268.8 123.3,270.1 121.5,271.3 119.8,272.3 118.3,273.4 116.8,274.3 115.4,274.7M270,104 270.2,106.2 270.1,108.7 269.8,111.2 269.2,114.1 268.8,115.7 268.4,117.5 267.9,119.3 267.3,121.3 266.6,123.2 265.9,125.3 265.1,127.5 264.3,129.7 263.4,131.9 262.4,134.2 261.3,136.4 260.1,138.7 258.9,141.1 257.6,143.4 256.3,145.9 254.8,148.3 253.3,150.8 251.8,153.4 250.2,156 248.5,158.6 246.8,161.2 245.1,163.9 243.3,166.5 241.4,169.2 239.4,171.9 237.4,174.6 235.3,177.2 233.1,179.9 230.9,182.7 228.5,185.6 226.2,188.6 223.7,191.7 221.2,194.9 218.7,198 216,201.2 213.2,204.3 210.4,207.4 207.5,210.5 204.5,213.6 201.4,216.7 198.3,219.9 195.1,223.1 191.9,226.3 188.6,229.5 185.4,232.5 182.1,235.6 178.9,238.6 175.6,241.4 172.4,244.2 169.2,246.7 166.1,249.1 163,251.4 159.9,253.5 156.9,255.5 154,257.5 151.2,259.3 148.4,261.1 145.7,262.8 143.1,264.4 140.6,265.9 138.1,267.4 135.7,268.8 133.4,270.1 131.2,271.3 129.1,272.3 127,273.4 125,274.3 123.2,274.7M270.9,109.9 271.2,112.6 271.2,115.7 271.2,117.5 271.1,119.3 270.9,121.3 270.6,123.2 270.2,125.3 269.8,127.5 269.4,129.7 268.8,131.9 268.2,134.2 267.5,136.4 266.7,138.7 265.8,141.1 264.9,143.4 263.9,145.9 262.8,148.3 261.7,150.8 260.5,153.4 259.2,156 257.9,158.6 256.5,161.2 255.1,163.9 253.6,166.5 252.1,169.2 250.4,171.9 248.7,174.6 246.9,177.2 245.1,179.9 243.1,182.7 241.1,185.6 239,188.6 236.9,191.7 234.7,194.9 232.4,198 230,201.2 227.6,204.3 225,207.4 222.4,210.5 219.6,213.6 216.7,216.7 213.8,219.9 210.8,223.1 207.7,226.3 204.5,229.5 201.3,232.5 198.1,235.6 194.8,238.6 191.5,241.4 188.2,244.2 184.9,246.7 181.7,249.1 178.4,251.4 175.2,253.5 172,255.5 168.8,257.5 165.7,259.3 162.7,261.1 159.7,262.8 156.7,264.4 153.9,265.9 151.1,267.4 148.3,268.8 145.7,270.1 143.1,271.3 140.5,272.3 138.1,273.4 135.7,274.3 133.4,274.7M272.1,117.3 272.4,119.3 272.6,121.3 272.7,123.2 272.8,125.3 272.8,127.5 272.7,129.7 272.5,131.9 272.3,134.2 271.9,136.4 271.5,138.7 271.1,141.1 270.5,143.4 269.9,145.9 269.2,148.3 268.4,150.8 267.6,153.4 266.7,156 265.7,158.6 264.7,161.2 263.7,163.9 262.5,166.5 261.4,169.2 260.1,171.9 258.7,174.6 257.3,177.2 255.8,179.9 254.2,182.7 252.5,185.6 250.8,188.6 249,191.7 247.2,194.9 245.3,198 243.3,201.2 241.2,204.3 238.9,207.4 236.6,210.5 234.2,213.6 231.6,216.7 229,219.9 226.2,223.1 223.3,226.3 220.3,229.5 217.3,232.5 214.2,235.6 211,238.6 207.8,241.4 204.5,244.2 201.2,246.7 197.9,249.1 194.6,251.4 191.3,253.5 188,255.5 184.7,257.5 181.4,259.3 178.2,261.1 175,262.8 171.8,264.4 168.7,265.9 165.6,267.4 162.6,268.8 159.7,270.1 156.7,271.3 153.9,272.3 151.1,273.4 148.4,274.3 145.7,274.7M273.7,127.1 274.1,129.7 274.3,131.9 274.5,134.2 274.5,136.4 274.5,138.7 274.5,141.1 274.3,143.4 274.1,145.9 273.8,148.3 273.4,150.8 272.9,153.4 272.4,156 271.9,158.6 271.3,161.2 270.6,163.9 269.8,166.5 269,169.2 268.1,171.9 267.2,174.6 266.1,177.2 265,179.9 263.8,182.7 262.5,185.6 261.2,188.6 259.8,191.7 258.4,194.9 256.9,198 255.3,201.2 253.6,204.3 251.7,207.4 249.8,210.5 247.8,213.6 245.6,216.7 243.3,219.9 240.9,223.1 238.3,226.3 235.6,229.5 232.8,232.5 229.9,235.6 226.9,238.6 223.8,241.4 220.7,244.2 217.6,246.7 214.3,249.1 211.1,251.4 207.8,253.5 204.5,255.5 201.2,257.5 197.8,259.3 194.5,261.1 191.2,262.8 187.9,264.4 184.6,265.9 181.4,267.4 178.2,268.8 175,270.1 171.8,271.3 168.7,272.3 165.7,273.4 162.7,274.3 159.7,274.7M275.5,138.2 275.9,141.1 276.2,143.4 276.3,145.9 276.4,148.3 276.5,150.8 276.4,153.4 276.3,156 276.1,158.6 275.9,161.2 275.6,163.9 275.3,166.5 274.9,169.2 274.4,171.9 273.8,174.6 273.2,177.2 272.4,179.9 271.6,182.7 270.8,185.6 269.9,188.6 268.9,191.7 267.9,194.9 266.8,198 265.7,201.2 264.4,204.3 263,207.4 261.5,210.5 259.9,213.6 258.2,216.7 256.3,219.9 254.3,223.1 252.1,226.3 249.8,229.5 247.3,232.5 244.7,235.6 242,238.6 239.2,241.4 236.3,244.2 233.4,246.7 230.4,249.1 227.3,251.4 224.1,253.5 220.9,255.5 217.7,257.5 214.4,259.3 211.1,261.1 207.8,262.8 204.4,264.4 201.1,265.9 197.8,267.4 194.5,268.8 191.2,270.1 187.9,271.3 184.6,272.3 181.4,273.4 178.2,274.3 175,274.7M277.5,150.2 277.9,153.4 278.2,156 278.4,158.6 278.6,161.2 278.7,163.9 278.7,166.5 278.7,169.2 278.6,171.9 278.5,174.6 278.2,177.2 277.9,179.9 277.5,182.7 277.1,185.6 276.6,188.6 276.1,191.7 275.5,194.9 274.8,198 274.1,201.2 273.3,204.3 272.4,207.4 271.4,210.5 270.2,213.6 268.9,216.7 267.5,219.9 266,223.1 264.3,226.3 262.4,229.5 260.3,232.5 258.1,235.6 255.8,238.6 253.4,241.4 250.9,244.2 248.2,246.7 245.5,249.1 242.7,251.4 239.8,253.5 236.8,255.5 233.7,257.5 230.6,259.3 227.4,261.1 224.2,262.8 220.9,264.4 217.6,265.9 214.3,267.4 211,268.8 207.7,270.1 204.4,271.3 201.1,272.3 197.8,273.4 194.5,274.3 191.2,274.7M279.8,164.3 280.1,166.5 280.5,169.2 280.8,171.9 281,174.6 281.1,177.2 281.2,179.9 281.2,182.7 281.2,185.6 281.2,188.6 281.1,191.7 280.9,194.9 280.7,198 280.4,201.2 280,204.3 279.6,207.4 279,210.5 278.4,213.6 277.6,216.7 276.7,219.9 275.6,223.1 274.4,226.3 273,229.5 271.4,232.5 269.7,235.6 267.9,238.6 265.9,241.4 263.8,244.2 261.6,246.7 259.2,249.1 256.8,251.4 254.2,253.5 251.5,255.5 248.7,257.5 245.9,259.3 242.9,261.1 239.9,262.8 236.8,264.4 233.7,265.9 230.5,267.4 227.3,268.8 224.1,270.1 220.8,271.3 217.6,272.3 214.3,273.4 211,274.3 207.7,274.7M282.4,180.3 282.7,182.7 283.1,185.6 283.4,188.6 283.7,191.7 284,194.9 284.2,198 284.3,201.2 284.4,204.3 284.4,207.4 284.3,210.5 284.1,213.6 283.8,216.7 283.4,219.9 282.9,223.1 282.2,226.3 281.3,229.5 280.3,232.5 279.1,235.6 277.8,238.6 276.3,241.4 274.7,244.2 273,246.7 271.1,249.1 269.1,251.4 267,253.5 264.7,255.5 262.3,257.5 259.8,259.3 257.2,261.1 254.5,262.8 251.7,264.4 248.8,265.9 245.9,267.4 242.9,268.8 239.8,270.1 236.7,271.3 233.6,272.3 230.4,273.4 227.2,274.3 224,274.7M285.5,199.8 286.2,204.3 286.6,207.4 286.9,210.5 287.2,213.6 287.4,216.7 287.5,219.9 287.5,223.1 287.3,226.3 287,229.5 286.6,232.5 286,235.6 285.2,238.6 284.3,241.4 283.3,244.2 282.1,246.7 280.8,249.1 279.3,251.4 277.6,253.5 275.8,255.5 273.9,257.5 271.8,259.3 269.7,261.1 267.4,262.8 264.9,264.4 262.4,265.9 259.8,267.4 257.2,268.8 254.4,270.1 251.6,271.3 248.7,272.3 245.7,273.4 242.7,274.3 239.7,274.7M288.9,220.5 289.3,223.1 289.7,226.3 290,229.5 290.1,232.5 290.1,235.6 290,238.6 289.7,241.4 289.2,244.2 288.6,246.7 287.8,249.1 286.9,251.4 285.9,253.5 284.6,255.5 283.2,257.5 281.7,259.3 280,261.1 278.2,262.8 276.3,264.4 274.2,265.9 272,267.4 269.8,268.8 267.4,270.1 264.9,271.3 262.4,272.3 259.8,273.4 257.1,274.3 254.3,274.7M291.5,236.7 291.8,238.6 292.1,241.4 292.3,244.2 292.3,246.7 292.2,249.1 291.9,251.4 291.4,253.5 290.8,255.5 290,257.5 289,259.3 287.9,261.1 286.7,262.8 285.3,264.4 283.7,265.9 282.1,267.4 280.3,268.8 278.4,270.1 276.4,271.3 274.3,272.3 272,273.4 269.7,274.3 267.3,274.7M293.6,249.5 293.9,251.4 294,253.5 294,255.5 293.9,257.5 293.6,259.3 293.1,261.1 292.5,262.8 291.7,264.4 290.7,265.9 289.6,267.4 288.4,268.8 287,270.1 285.6,271.3 283.9,272.3 282.2,273.4 280.4,274.3 278.4,274.7M295.1,258.9 295.4,261.1 295.4,262.8 295.2,264.4 294.9,265.9 294.5,267.4 293.9,268.8 293.1,270.1 291.1,272.3 290,273.4 288.6,274.3 287.2,274.7M296.3,266.2 296.5,268.8 296.1,271.3 295.1,273.4 293.4,274.7M297.3,272 297.3,274.3 296.9,274.7"/>
<path d="M107.7,274.7H297.7"/>
<rect x="164.6" y="32.4" width="76.2" height="9.7" rx="1.2" fill="#fff"/>
<rect x="157.2" y="42.1" width="91" height="35.5" rx="1.5" fill="#fff"/>
<rect x="141.8" y="77.6" width="121.8" height="14.7" fill="#fff"/>
</g>
<g>
<path d="M471.1,92.5 L601.9,92.5 L631.5,274.7 L441.5,274.7 Z" fill="#fff" stroke="none"/>
<path stroke="#000" stroke-width="1.1" d="M441.9,272 441.9,274.3 442.3,274.7M442.9,266.2 442.7,268.8 443.1,271.3 444.1,273.4 445.8,274.7M444.1,258.9 443.8,261.1 443.8,262.8 444,264.4 444.3,265.9 444.7,267.4 445.3,268.8 446.1,270.1 448.1,272.3 449.2,273.4 450.6,274.3 452,274.7M445.6,249.5 445.3,251.4 445.2,253.5 445.2,255.5 445.3,257.5 445.6,259.3 446.1,261.1 446.7,262.8 447.5,264.4 448.5,265.9 449.6,267.4 450.8,268.8 452.2,270.1 453.6,271.3 455.3,272.3 457,273.4 458.8,274.3 460.8,274.7M447.7,236.7 447.4,238.6 447.1,241.4 446.9,244.2 446.9,246.7 447,249.1 447.3,251.4 447.8,253.5 448.4,255.5 449.2,257.5 450.2,259.3 451.3,261.1 452.5,262.8 453.9,264.4 455.5,265.9 457.1,267.4 458.9,268.8 460.8,270.1 462.8,271.3 464.9,272.3 467.2,273.4 469.5,274.3 471.9,274.7M450.3,220.5 449.9,223.1 449.5,226.3 449.2,229.5 449.1,232.5 449.1,235.6 449.2,238.6 449.5,241.4 450,244.2 450.6,246.7 451.4,249.1 452.3,251.4 453.3,253.5 454.6,255.5 456,257.5 457.5,259.3 459.2,261.1 461,262.8 462.9,264.4 465,265.9 467.2,267.4 469.4,268.8 471.8,270.1 474.3,271.3 476.8,272.3 479.4,273.4 482.1,274.3 484.9,274.7M453.7,199.8 453,204.3 452.6,207.4 452.3,210.5 452,213.6 451.8,216.7 451.7,219.9 451.7,223.1 451.9,226.3 452.2,229.5 452.6,232.5 453.2,235.6 454,238.6 454.9,241.4 455.9,244.2 457.1,246.7 458.4,249.1 459.9,251.4 461.6,253.5 463.4,255.5 465.3,257.5 467.4,259.3 469.5,261.1 471.8,262.8 474.3,264.4 476.8,265.9 479.4,267.4 482,268.8 484.8,270.1 487.6,271.3 490.5,272.3 493.5,273.4 496.5,274.3 499.5,274.7M456.8,180.3 456.5,182.7 456.1,185.6 455.8,188.6 455.5,191.7 455.2,194.9 455,198 454.9,201.2 454.8,204.3 454.8,207.4 454.9,210.5 455.1,213.6 455.4,216.7 455.8,219.9 456.3,223.1 457,226.3 457.9,229.5 458.9,232.5 460.1,235.6 461.4,238.6 462.9,241.4 464.5,244.2 466.2,246.7 468.1,249.1 470.1,251.4 472.2,253.5 474.5,255.5 476.9,257.5 479.4,259.3 482,261.1 484.7,262.8 487.5,264.4 490.4,265.9 493.3,267.4 496.3,268.8 499.4,270.1 502.5,271.3 505.6,272.3 508.8,273.4 512,274.3 515.2,274.7M459.4,164.3 459.1,166.5 458.7,169.2 458.4,171.9 458.2,174.6 458.1,177.2 458,179.9 458,182.7 458,185.6 458,188.6 458.1,191.7 458.3,194.9 458.5,198 458.8,201.2 459.2,204.3 459.6,207.4 460.2,210.5 460.8,213.6 461.6,216.7 462.5,219.9 463.6,223.1 464.8,226.3 466.2,229.5 467.8,232.5 469.5,235.6 471.3,238.6 473.3,241.4 475.4,244.2 477.6,246.7 480,249.1 482.4,251.4 485,253.5 487.7,255.5 490.5,257.5 493.3,259.3 496.3,261.1 499.3,262.8 502.4,264.4 505.5,265.9 508.7,267.4 511.9,268.8 515.1,270.1 518.4,271.3 521.6,272.3 524.9,273.4 528.2,274.3 531.5,274.7M461.7,150.2 461.3,153.4 461,156 460.8,158.6 460.6,161.2 460.5,163.9 460.5,166.5 460.5,169.2 460.6,171.9 460.7,174.6 461,177.2 461.3,179.9 461.7,182.7 462.1,185.6 462.6,188.6 463.1,191.7 463.7,194.9 464.4,198 465.1,201.2 465.9,204.3 466.8,207.4 467.8,210.5 469,213.6 470.3,216.7 471.7,219.9 473.2,223.1 474.9,226.3 476.8,229.5 478.9,232.5 481.1,235.6 483.4,238.6 485.8,241.4 488.3,244.2 491,246.7 493.7,249.1 496.5,251.4 499.4,253.5 502.4,255.5 505.5,257.5 508.6,259.3 511.8,261.1 515,262.8 518.3,264.4 521.6,265.9 524.9,267.4 528.2,268.8 531.5,270.1 534.8,271.3 538.1,272.3 541.4,273.4 544.7,274.3 548,274.7M463.7,138.2 463.3,141.1 463,143.4 462.9,145.9 462.8,148.3 462.7,150.8 462.8,153.4 462.9,156 463.1,158.6 463.3,161.2 463.6,163.9 463.9,166.5 464.3,169.2 464.8,171.9 465.4,174.6 466,177.2 466.8,179.9 467.6,182.7 468.4,185.6 469.3,188.6 470.3,191.7 471.3,194.9 472.4,198 473.5,201.2 474.8,204.3 476.2,207.4 477.7,210.5 479.3,213.6 481,216.7 482.9,219.9 484.9,223.1 487.1,226.3 489.4,229.5 491.9,232.5 494.5,235.6 497.2,238.6 500,241.4 502.9,244.2 505.8,246.7 508.8,249.1 511.9,251.4 515.1,253.5 518.3,255.5 521.5,257.5 524.8,259.3 528.1,261.1 531.4,262.8 534.8,264.4 538.1,265.9 541.4,267.4 544.7,268.8 548,270.1 551.3,271.3 554.6,272.3 557.8,273.4 561,274.3 564.2,274.7M465.5,127.1 465.1,129.7 464.9,131.9 464.7,134.2 464.7,136.4 464.7,138.7 464.7,141.1 464.9,143.4 465.1,145.9 465.4,148.3 465.8,150.8 466.3,153.4 466.8,156 467.3,158.6 467.9,161.2 468.6,163.9 469.4,166.5 470.2,169.2 471.1,171.9 472,174.6 473.1,177.2 474.2,179.9 475.4,182.7 476.7,185.6 478,188.6 479.4,191.7 480.8,194.9 482.3,198 483.9,201.2 485.6,204.3 487.5,207.4 489.4,210.5 491.4,213.6 493.6,216.7 495.9,219.9 498.3,223.1 500.9,226.3 503.6,229.5 506.4,232.5 509.3,235.6 512.3,238.6 515.4,241.4 518.5,244.2 521.6,246.7 524.9,249.1 528.1,251.4 531.4,253.5 534.7,255.5 538,257.5 541.4,259.3 544.7,261.1 548,262.8 551.3,264.4 554.6,265.9 557.8,267.4 561,268.8 564.2,270.1 567.4,271.3 570.5,272.3 573.5,273.4 576.5,274.3 579.5,274.7M467.1,117.3 466.8,119.3 466.6,121.3 466.5,123.2 466.4,125.3 466.4,127.5 466.5,129.7 466.7,131.9 466.9,134.2 467.3,136.4 467.7,138.7 468.1,141.1 468.7,143.4 469.3,145.9 470,148.3 470.8,150.8 471.6,153.4 472.5,156 473.5,158.6 474.5,161.2 475.5,163.9 476.7,166.5 477.8,169.2 479.1,171.9 480.5,174.6 481.9,177.2 483.4,179.9 485,182.7 486.7,185.6 488.4,188.6 490.2,191.7 492,194.9 493.9,198 495.9,201.2 498,204.3 500.3,207.4 502.6,210.5 505,213.6 507.6,216.7 510.2,219.9 513,223.1 515.9,226.3 518.9,229.5 521.9,232.5 525,235.6 528.2,238.6 531.4,241.4 534.7,244.2 538,246.7 541.3,249.1 544.6,251.4 547.9,253.5 551.2,255.5 554.5,257.5 557.8,259.3 561,261.1 564.2,262.8 567.4,264.4 570.5,265.9 573.6,267.4 576.6,268.8 579.5,270.1 582.5,271.3 585.3,272.3 588.1,273.4 590.8,274.3 593.5,274.7M468.3,109.9 468,112.6 468,115.7 468,117.5 468.1,119.3 468.3,121.3 468.6,123.2 469,125.3 469.4,127.5 469.8,129.7 470.4,131.9 471,134.2 471.7,136.4 472.5,138.7 473.4,141.1 474.3,143.4 475.3,145.9 476.4,148.3 477.5,150.8 478.7,153.4 480,156 481.3,158.6 482.7,161.2 484.1,163.9 485.6,166.5 487.1,169.2 488.8,171.9 490.5,174.6 492.3,177.2 494.1,179.9 496.1,182.7 498.1,185.6 500.2,188.6 502.3,191.7 504.5,194.9 506.8,198 509.2,201.2 511.6,204.3 514.2,207.4 516.8,210.5 519.6,213.6 522.5,216.7 525.4,219.9 528.4,223.1 531.5,226.3 534.7,229.5 537.9,232.5 541.1,235.6 544.4,238.6 547.7,241.4 551,244.2 554.3,246.7 557.5,249.1 560.8,251.4 564,253.5 567.2,255.5 570.4,257.5 573.5,259.3 576.5,261.1 579.5,262.8 582.5,264.4 585.3,265.9 588.1,267.4 590.9,268.8 593.5,270.1 596.1,271.3 598.7,272.3 601.1,273.4 603.5,274.3 605.8,274.7M469.2,104 469,106.2 469.1,108.7 469.4,111.2 470,114.1 470.4,115.7 470.8,117.5 471.3,119.3 471.9,121.3 472.6,123.2 473.3,125.3 474.1,127.5 474.9,129.7 475.8,131.9 476.8,134.2 477.9,136.4 479.1,138.7 480.3,141.1 481.6,143.4 482.9,145.9 484.4,148.3 485.9,150.8 487.4,153.4 489,156 490.7,158.6 492.4,161.2 494.1,163.9 495.9,166.5 497.8,169.2 499.8,171.9 501.8,174.6 503.9,177.2 506.1,179.9 508.3,182.7 510.7,185.6 513,188.6 515.5,191.7 518,194.9 520.5,198 523.2,201.2 526,204.3 528.8,207.4 531.7,210.5 534.7,213.6 537.8,216.7 540.9,219.9 544.1,223.1 547.3,226.3 550.6,229.5 553.8,232.5 557.1,235.6 560.3,238.6 563.6,241.4 566.8,244.2 570,246.7 573.1,249.1 576.2,251.4 579.3,253.5 582.3,255.5 585.2,257.5 588,259.3 590.8,261.1 593.5,262.8 596.1,264.4 598.6,265.9 601.1,267.4 603.5,268.8 605.8,270.1 608,271.3 610.1,272.3 612.2,273.4 614.2,274.3 616,274.7M470.1,98.8 469.9,100.6 470,102.8 470.3,105.1 471,107.5 471.9,109.9 473.2,112.6 473.9,114.1 474.6,115.7 475.4,117.5 476.3,119.3 477.2,121.3 478.3,123.2 479.3,125.3 480.5,127.5 481.7,129.7 482.9,131.9 484.3,134.2 485.7,136.4 487.2,138.7 488.7,141.1 490.3,143.4 492,145.9 493.7,148.3 495.5,150.8 497.4,153.4 499.3,156 501.2,158.6 503.2,161.2 505.3,163.9 507.4,166.5 509.5,169.2 511.8,171.9 514.1,174.6 516.4,177.2 518.9,179.9 521.4,182.7 523.9,185.6 526.6,188.6 529.2,191.7 532,194.9 534.8,198 537.7,201.2 540.6,204.3 543.7,207.4 546.8,210.5 549.9,213.6 553.1,216.7 556.3,219.9 559.6,223.1 562.8,226.3 566,229.5 569.2,232.5 572.3,235.6 575.5,238.6 578.5,241.4 581.6,244.2 584.6,246.7 587.5,249.1 590.3,251.4 593.1,253.5 595.8,255.5 598.4,257.5 600.9,259.3 603.3,261.1 605.6,262.8 607.9,264.4 610,265.9 612.1,267.4 614,268.8 615.9,270.1 617.7,271.3 619.4,272.3 620.9,273.4 622.4,274.3 623.8,274.7M470.8,94.6 470.7,96.7 470.9,98.6 471.5,100.6 472.3,102.8 473.4,105.1 474.8,107.5 476.4,109.9 477.4,111.2 478.4,112.6 479.4,114.1 480.5,115.7 481.7,117.5 482.9,119.3 484.2,121.3 485.5,123.2 486.9,125.3 488.4,127.5 489.9,129.7 491.5,131.9 493.1,134.2 494.8,136.4 496.6,138.7 498.4,141.1 500.3,143.4 502.3,145.9 504.3,148.3 506.3,150.8 508.4,153.4 510.6,156 512.8,158.6 515,161.2 517.3,163.9 519.6,166.5 522,169.2 524.5,171.9 527,174.6 529.5,177.2 532.2,179.9 534.8,182.7 537.6,185.6 540.4,188.6 543.2,191.7 546.1,194.9 549.1,198 552.1,201.2 555.2,204.3 558.3,207.4 561.5,210.5 564.7,213.6 567.9,216.7 571.1,219.9 574.3,223.1 577.4,226.3 580.5,229.5 583.5,232.5 586.4,235.6 589.3,238.6 592.1,241.4 594.9,244.2 597.6,246.7 600.2,249.1 602.7,251.4 605.1,253.5 607.4,255.5 609.6,257.5 611.7,259.3 613.7,261.1 615.6,262.8 617.4,264.4 619.1,265.9 620.7,267.4 622.2,268.8 623.6,270.1 624.9,271.3 626,272.3 627.1,273.4 629,274.7M471.1,92.5 471.6,94.3 472.2,95.9 473,97.6 474.1,99.6 475.5,101.7 477.2,103.9 479.1,106.2 480.2,107.5 481.3,108.7 482.5,109.9 483.8,111.2 485.1,112.6 486.5,114.1 487.9,115.7 489.4,117.5 490.9,119.3 492.5,121.3 494.1,123.2 495.8,125.3 497.5,127.5 499.3,129.7 501.2,131.9 503.1,134.2 505.1,136.4 507.1,138.7 509.2,141.1 511.3,143.4 513.5,145.9 515.7,148.3 517.9,150.8 520.2,153.4 522.6,156 524.9,158.6 527.4,161.2 529.8,163.9 532.3,166.5 534.9,169.2 537.5,171.9 540.2,174.6 542.9,177.2 545.6,179.9 548.4,182.7 551.2,185.6 554.1,188.6 557,191.7 560,194.9 563,198 566.1,201.2 569.2,204.3 572.3,207.4 575.4,210.5 578.5,213.6 581.6,216.7 584.7,219.9 587.7,223.1 590.6,226.3 593.5,229.5 596.2,232.5 598.8,235.6 601.4,238.6 603.9,241.4 606.3,244.2 608.6,246.7 610.8,249.1 612.9,251.4 614.9,253.5 616.7,255.5 618.5,257.5 620.1,259.3 621.6,261.1 623,262.8 624.3,264.4 625.5,265.9 626.6,267.4 627.6,268.8 628.5,270.1 630,272.3 631.1,274.3 631.3,274.7M472.2,92.5 473.6,93.6 474.7,95.1 476.2,96.7 477.9,98.6 479.8,100.6 480.9,101.7 482,102.8 483.2,103.9 484.5,105.1 485.8,106.2 487.2,107.5 488.6,108.7 490.1,109.9 491.7,111.2 493.3,112.6 494.9,114.1 496.6,115.7 498.4,117.5 500.1,119.3 502,121.3 503.9,123.2 505.8,125.3 507.8,127.5 509.8,129.7 511.9,131.9 514,134.2 516.2,136.4 518.4,138.7 520.6,141.1 522.9,143.4 525.3,145.9 527.6,148.3 530,150.8 532.5,153.4 534.9,156 537.4,158.6 540,161.2 542.5,163.9 545.2,166.5 547.8,169.2 550.5,171.9 553.2,174.6 556,177.2 558.8,179.9 561.6,182.7 564.4,185.6 567.3,188.6 570.2,191.7 573.1,194.9 576.1,198 579.1,201.2 582.1,204.3 585.1,207.4 588.1,210.5 591,213.6 593.9,216.7 596.7,219.9 599.5,223.1 602.1,226.3 604.6,229.5 606.9,232.5 609.2,235.6 611.4,238.6 613.5,241.4 615.4,244.2 617.3,246.7 619,249.1 620.6,251.4 622.1,253.5 623.5,255.5 624.7,257.5 625.8,259.3 626.8,261.1 627.7,262.8 628.5,264.4 629.2,265.9 629.8,267.4 630.7,270.1 631,271.6M475.1,92.5 476.6,93.1 478.4,94.3 480.4,95.9 482.6,97.6 483.8,98.6 485,99.6 486.4,100.6 487.7,101.7 489.2,102.8 490.7,103.9 492.2,105.1 493.8,106.2 495.5,107.5 497.2,108.7 498.9,109.9 500.7,111.2 502.6,112.6 504.5,114.1 506.4,115.7 508.4,117.5 510.4,119.3 512.4,121.3 514.5,123.2 516.6,125.3 518.8,127.5 521,129.7 523.2,131.9 525.5,134.2 527.8,136.4 530.2,138.7 532.5,141.1 534.9,143.4 537.4,145.9 539.8,148.3 542.3,150.8 544.8,153.4 547.3,156 549.9,158.6 552.5,161.2 555.1,163.9 557.7,166.5 560.4,169.2 563.1,171.9 565.8,174.6 568.6,177.2 571.3,179.9 574,182.7 576.8,185.6 579.5,188.6 582.4,191.7 585.2,194.9 588.1,198 590.9,201.2 593.7,204.3 596.4,207.4 599.2,210.5 601.8,213.6 604.4,216.7 606.8,219.9 609.2,223.1 611.4,226.3 613.4,229.5 615.4,232.5 617.2,235.6 618.9,238.6 620.5,241.4 622,244.2 623.3,246.7 624.5,249.1 625.6,251.4 626.5,253.5 627.4,255.5 628.1,257.5 628.7,259.3 629.2,261.1 629.5,262.8 629.7,263.8M479.6,92.5 481.8,93.1 484.2,94.3 486.8,95.9 488.2,96.7 489.7,97.6 491.2,98.6 492.7,99.6 494.3,100.6 495.9,101.7 497.6,102.8 499.4,103.9 501.2,105.1 503,106.2 504.9,107.5 506.8,108.7 508.8,109.9 510.8,111.2 512.8,112.6 514.9,114.1 517,115.7 519.1,117.5 521.3,119.3 523.5,121.3 525.7,123.2 528,125.3 530.3,127.5 532.6,129.7 534.9,131.9 537.3,134.2 539.7,136.4 542.1,138.7 544.5,141.1 547,143.4 549.4,145.9 551.9,148.3 554.4,150.8 556.9,153.4 559.4,156 562,158.6 564.5,161.2 567.1,163.9 569.7,166.5 572.4,169.2 575,171.9 577.6,174.6 580.2,177.2 582.8,179.9 585.4,182.7 588,185.6 590.6,188.6 593.2,191.7 595.8,194.9 598.4,198 601,201.2 603.5,204.3 605.9,207.4 608.2,210.5 610.5,213.6 612.6,216.7 614.6,219.9 616.5,223.1 618.2,226.3 619.8,229.5 621.2,232.5 622.5,235.6 623.7,238.6 624.7,241.4 625.7,244.2 626.5,246.7 627.1,249.1 627.7,251.4 628.1,253.5 628.1,253.6M485.8,92.5 488.6,93.1 490,93.6 491.5,94.3 493.1,95.1 494.7,95.9 496.3,96.7 498,97.6 499.8,98.6 501.5,99.6 503.4,100.6 505.2,101.7 507.2,102.8 509.1,103.9 511.1,105.1 513.1,106.2 515.2,107.5 517.3,108.7 519.4,109.9 521.5,111.2 523.7,112.6 525.9,114.1 528.1,115.7 530.4,117.5 532.6,119.3 534.9,121.3 537.3,123.2 539.6,125.3 541.9,127.5 544.3,129.7 546.7,131.9 549.1,134.2 551.5,136.4 553.9,138.7 556.3,141.1 558.7,143.4 561.2,145.9 563.6,148.3 566,150.8 568.5,153.4 570.9,156 573.4,158.6 575.9,161.2 578.3,163.9 580.8,166.5 583.3,169.2 585.8,171.9 588.2,174.6 590.7,177.2 593,179.9 595.4,182.7 597.7,185.6 600.1,188.6 602.4,191.7 604.7,194.9 606.9,198 609.1,201.2 611.2,204.3 613.2,207.4 615,210.5 616.8,213.6 618.4,216.7 619.8,219.9 621.2,223.1 622.3,226.3 623.3,229.5 624.2,232.5 625,235.6 625.6,238.6 626,240.9M493.3,92.5 494.9,92.7 496.6,93.1 498.3,93.6 500,94.3 501.8,95.1 503.7,95.9 505.5,96.7 507.4,97.6 509.4,98.6 511.3,99.6 513.4,100.6 515.4,101.7 517.5,102.8 519.6,103.9 521.7,105.1 523.8,106.2 526,107.5 528.2,108.7 530.4,109.9 532.7,111.2 534.9,112.6 537.2,114.1 539.5,115.7 541.8,117.5 544.1,119.3 546.4,121.3 548.7,123.2 551.1,125.3 553.4,127.5 555.8,129.7 558.2,131.9 560.5,134.2 562.9,136.4 565.2,138.7 567.6,141.1 569.9,143.4 572.2,145.9 574.6,148.3 576.9,150.8 579.2,153.4 581.5,156 583.8,158.6 586.1,161.2 588.4,163.9 590.7,166.5 593,169.2 595.2,171.9 597.4,174.6 599.6,177.2 601.7,179.9 603.7,182.7 605.7,185.6 607.7,188.6 609.6,191.7 611.5,194.9 613.3,198 615,201.2 616.6,204.3 618,207.4 619.3,210.5 620.5,213.6 621.5,216.7 622.4,219.9 623.1,223.1 623.5,225.7M502,92.5 503.8,92.7 505.7,93.1 507.6,93.6 509.6,94.3 511.5,95.1 513.5,95.9 515.6,96.7 517.6,97.6 519.7,98.6 521.8,99.6 524,100.6 526.1,101.7 528.3,102.8 530.5,103.9 532.7,105.1 534.9,106.2 537.2,107.5 539.4,108.7 541.7,109.9 543.9,111.2 546.2,112.6 548.5,114.1 550.8,115.7 553,117.5 555.3,119.3 557.6,121.3 559.9,123.2 562.2,125.3 564.5,127.5 566.8,129.7 569,131.9 571.3,134.2 573.6,136.4 575.8,138.7 578,141.1 580.2,143.4 582.4,145.9 584.5,148.3 586.6,150.8 588.7,153.4 590.8,156 592.9,158.6 595,161.2 597.1,163.9 599.1,166.5 601.1,169.2 603,171.9 604.9,174.6 606.7,177.2 608.4,179.9 610.1,182.7 611.7,185.6 613.2,188.6 614.7,191.7 616.1,194.9 617.4,198 618.5,201.2 619.5,204.3 620.4,207.4 621,210.5 621.3,212.1M511.6,92.5 513.6,92.7 515.7,93.1 517.7,93.6 519.8,94.3 521.9,95.1 524,95.9 526.2,96.7 528.3,97.6 530.5,98.6 532.7,99.6 534.9,100.6 537.1,101.7 539.3,102.8 541.6,103.9 543.8,105.1 546,106.2 548.3,107.5 550.5,108.7 552.8,109.9 555,111.2 557.2,112.6 559.4,114.1 561.6,115.7 563.9,117.5 566.1,119.3 568.3,121.3 570.5,123.2 572.6,125.3 574.8,127.5 576.9,129.7 579.1,131.9 581.2,134.2 583.2,136.4 585.3,138.7 587.3,141.1 589.3,143.4 591.2,145.9 593.2,148.3 595,150.8 596.9,153.4 598.7,156 600.5,158.6 602.3,161.2 604.1,163.9 605.8,166.5 607.4,169.2 609,171.9 610.4,174.6 611.8,177.2 613.1,179.9 614.3,182.7 615.5,185.6 616.5,188.6 617.5,191.7 618.3,194.9 619,198 619.4,199.9M522,92.5 524.1,92.7 526.2,93.1 528.4,93.6 530.5,94.3 532.7,95.1 534.9,95.9 537.1,96.7 539.3,97.6 541.5,98.6 543.7,99.6 545.9,100.6 548.1,101.7 550.3,102.8 552.5,103.9 554.7,105.1 556.9,106.2 559.1,107.5 561.2,108.7 563.4,109.9 565.5,111.2 567.7,112.6 569.8,114.1 571.9,115.7 573.9,117.5 576,119.3 578.1,121.3 580.1,123.2 582.1,125.3 584.1,127.5 586,129.7 587.9,131.9 589.8,134.2 591.7,136.4 593.5,138.7 595.2,141.1 597,143.4 598.6,145.9 600.3,148.3 601.9,150.8 603.4,153.4 604.9,156 606.4,158.6 607.8,161.2 609.2,163.9 610.5,166.5 611.8,169.2 612.9,171.9 613.9,174.6 614.8,177.2 615.7,179.9 616.4,182.7 617,185.6 617.3,187.5M532.7,92.5 534.9,92.7 537.1,93.1 539.2,93.6 541.4,94.3 543.6,95.1 545.8,95.9 548,96.7 550.2,97.6 552.3,98.6 554.5,99.6 556.6,100.6 558.8,101.7 560.9,102.8 563,103.9 565.1,105.1 567.2,106.2 569.3,107.5 571.3,108.7 573.3,109.9 575.3,111.2 577.3,112.6 579.2,114.1 581.1,115.7 583,117.5 584.9,119.3 586.7,121.3 588.5,123.2 590.3,125.3 592.1,127.5 593.8,129.7 595.4,131.9 597,134.2 598.6,136.4 600.1,138.7 601.6,141.1 603,143.4 604.4,145.9 605.7,148.3 607,150.8 608.2,153.4 609.3,156 610.4,158.6 611.4,161.2 612.4,163.9 613.3,166.5 614,169.2 614.7,171.9 615.2,174.6 615.4,175.6M543.5,92.5 545.7,92.7 547.9,93.1 550,93.6 552.2,94.3 554.3,95.1 556.4,95.9 558.5,96.7 560.6,97.6 562.7,98.6 564.8,99.6 566.8,100.6 568.9,101.7 570.9,102.8 572.8,103.9 574.8,105.1 576.7,106.2 578.6,107.5 580.4,108.7 582.2,109.9 584,111.2 585.8,112.6 587.5,114.1 589.2,115.7 590.8,117.5 592.4,119.3 594,121.3 595.6,123.2 597.1,125.3 598.5,127.5 600,129.7 601.3,131.9 602.6,134.2 603.9,136.4 605.1,138.7 606.2,141.1 607.3,143.4 608.3,145.9 609.3,148.3 610.1,150.8 611,153.4 611.7,156 612.4,158.6 613,161.2 613.5,163.9 613.5,164.1M554.2,92.5 556.3,92.7 558.4,93.1 560.4,93.6 562.5,94.3 564.5,95.1 566.5,95.9 568.5,96.7 570.5,97.6 572.4,98.6 574.3,99.6 576.2,100.6 578,101.7 579.9,102.8 581.6,103.9 583.4,105.1 585.1,106.2 586.7,107.5 588.3,108.7 589.9,109.9 591.4,111.2 592.9,112.6 594.4,114.1 595.8,115.7 597.2,117.5 598.5,119.3 599.8,121.3 601,123.2 602.2,125.3 603.4,127.5 604.5,129.7 605.5,131.9 606.5,134.2 607.4,136.4 608.2,138.7 609,141.1 609.7,143.4 610.3,145.9 610.9,148.3 611.4,150.8 611.6,152.1M564.4,92.5 566.3,92.7 568.3,93.1 570.2,93.6 572.1,94.3 574,95.1 575.8,95.9 577.6,96.7 579.4,97.6 581.1,98.6 582.8,99.6 584.5,100.6 586.1,101.7 587.7,102.8 589.2,103.9 590.7,105.1 592.1,106.2 593.5,107.5 594.9,108.7 596.2,109.9 597.4,111.2 598.6,112.6 599.7,114.1 600.8,115.7 601.9,117.5 602.9,119.3 603.9,121.3 604.8,123.2 605.6,125.3 606.4,127.5 607.2,129.7 607.8,131.9 608.4,134.2 608.9,136.4 609.4,138.7 609.6,140M573.7,92.5 575.5,92.7 577.3,93.1 579,93.6 580.7,94.3 582.4,95.1 584,95.9 585.6,96.7 587.1,97.6 588.6,98.6 590.1,99.6 591.5,100.6 592.8,101.7 594.1,102.8 595.4,103.9 596.6,105.1 597.7,106.2 598.8,107.5 599.8,108.7 600.8,109.9 601.7,111.2 602.5,112.6 603.4,114.1 604.1,115.7 604.8,117.5 605.5,119.3 606.1,121.3 606.7,123.2 607.1,125.3 607.6,127.5 607.8,128.6M582.1,92.5 583.7,92.7 585.2,93.1 586.7,93.6 588.1,94.3 589.5,95.1 590.9,95.9 592.2,96.7 593.5,97.6 594.7,98.6 595.8,99.6 596.9,100.6 599,102.8 600.8,105.1 602.3,107.5 603.7,109.9 604.7,112.6 605.2,114.1 605.6,115.7 606,117.5 606.1,118.4M589.2,92.5 591.8,93.1 594.1,94.3 596.3,95.9 598.2,97.6 600,99.6 601.5,101.7 602.7,103.9 603.7,106.2 604.5,108.7 604.8,110.4M594.9,92.5 596.8,93.1 598.5,94.3 600.1,95.9 601.3,97.6 602.4,99.6 603.2,101.7 603.8,103.9 603.8,104.3M599,92.5 600.8,93.6 601.7,95.1 602.4,96.7 602.9,98.6 602.9,98.8M601.3,92.5 602.2,94.3 602.2,94.4M471.7,92.5 470.8,94.3 470.8,94.4M474,92.5 472.2,93.6 471.3,95.1 470.6,96.7 470.1,98.6 470.1,98.8M478.1,92.5 476.2,93.1 474.5,94.3 472.9,95.9 471.7,97.6 470.6,99.6 469.8,101.7 469.2,103.9 469.2,104.3M483.8,92.5 481.2,93.1 478.9,94.3 476.7,95.9 474.8,97.6 473,99.6 471.5,101.7 470.3,103.9 469.3,106.2 468.5,108.7 468.2,110.4M490.9,92.5 489.3,92.7 487.8,93.1 486.3,93.6 484.9,94.3 483.5,95.1 482.1,95.9 480.8,96.7 479.5,97.6 478.3,98.6 477.2,99.6 476.1,100.6 474,102.8 472.2,105.1 470.7,107.5 469.3,109.9 468.3,112.6 467.8,114.1 467.4,115.7 467,117.5 466.9,118.4M499.3,92.5 497.5,92.7 495.7,93.1 494,93.6 492.3,94.3 490.6,95.1 489,95.9 487.4,96.7 485.9,97.6 484.4,98.6 482.9,99.6 481.5,100.6 480.2,101.7 478.9,102.8 477.6,103.9 476.4,105.1 475.3,106.2 474.2,107.5 473.2,108.7 472.2,109.9 471.3,111.2 470.5,112.6 469.6,114.1 468.9,115.7 468.2,117.5 467.5,119.3 466.9,121.3 466.3,123.2 465.9,125.3 465.4,127.5 465.2,128.6M508.6,92.5 506.7,92.7 504.7,93.1 502.8,93.6 500.9,94.3 499,95.1 497.2,95.9 495.4,96.7 493.6,97.6 491.9,98.6 490.2,99.6 488.5,100.6 486.9,101.7 485.3,102.8 483.8,103.9 482.3,105.1 480.9,106.2 479.5,107.5 478.1,108.7 476.8,109.9 475.6,111.2 474.4,112.6 473.3,114.1 472.2,115.7 471.1,117.5 470.1,119.3 469.1,121.3 468.2,123.2 467.4,125.3 466.6,127.5 465.8,129.7 465.2,131.9 464.6,134.2 464.1,136.4 463.6,138.7 463.4,140M518.8,92.5 516.7,92.7 514.6,93.1 512.6,93.6 510.5,94.3 508.5,95.1 506.5,95.9 504.5,96.7 502.5,97.6 500.6,98.6 498.7,99.6 496.8,100.6 495,101.7 493.1,102.8 491.4,103.9 489.6,105.1 487.9,106.2 486.3,107.5 484.7,108.7 483.1,109.9 481.6,111.2 480.1,112.6 478.6,114.1 477.2,115.7 475.8,117.5 474.5,119.3 473.2,121.3 472,123.2 470.8,125.3 469.6,127.5 468.5,129.7 467.5,131.9 466.5,134.2 465.6,136.4 464.8,138.7 464,141.1 463.3,143.4 462.7,145.9 462.1,148.3 461.6,150.8 461.4,152.1M529.5,92.5 527.3,92.7 525.1,93.1 523,93.6 520.8,94.3 518.7,95.1 516.6,95.9 514.5,96.7 512.4,97.6 510.3,98.6 508.2,99.6 506.2,100.6 504.1,101.7 502.1,102.8 500.2,103.9 498.2,105.1 496.3,106.2 494.4,107.5 492.6,108.7 490.8,109.9 489,111.2 487.2,112.6 485.5,114.1 483.8,115.7 482.2,117.5 480.6,119.3 479,121.3 477.4,123.2 475.9,125.3 474.5,127.5 473,129.7 471.7,131.9 470.4,134.2 469.1,136.4 467.9,138.7 466.8,141.1 465.7,143.4 464.7,145.9 463.7,148.3 462.9,150.8 462,153.4 461.3,156 460.6,158.6 460,161.2 459.5,163.9 459.5,164.1M540.3,92.5 538.1,92.7 535.9,93.1 533.8,93.6 531.6,94.3 529.4,95.1 527.2,95.9 525,96.7 522.8,97.6 520.7,98.6 518.5,99.6 516.4,100.6 514.2,101.7 512.1,102.8 510,103.9 507.9,105.1 505.8,106.2 503.7,107.5 501.7,108.7 499.7,109.9 497.7,111.2 495.7,112.6 493.8,114.1 491.9,115.7 490,117.5 488.1,119.3 486.3,121.3 484.5,123.2 482.7,125.3 480.9,127.5 479.2,129.7 477.6,131.9 476,134.2 474.4,136.4 472.9,138.7 471.4,141.1 470,143.4 468.6,145.9 467.3,148.3 466,150.8 464.8,153.4 463.7,156 462.6,158.6 461.6,161.2 460.6,163.9 459.7,166.5 459,169.2 458.3,171.9 457.8,174.6 457.6,175.6M551,92.5 548.9,92.7 546.8,93.1 544.6,93.6 542.5,94.3 540.3,95.1 538.1,95.9 535.9,96.7 533.7,97.6 531.5,98.6 529.3,99.6 527.1,100.6 524.9,101.7 522.7,102.8 520.5,103.9 518.3,105.1 516.1,106.2 513.9,107.5 511.8,108.7 509.6,109.9 507.5,111.2 505.3,112.6 503.2,114.1 501.1,115.7 499.1,117.5 497,119.3 494.9,121.3 492.9,123.2 490.9,125.3 488.9,127.5 487,129.7 485.1,131.9 483.2,134.2 481.3,136.4 479.5,138.7 477.8,141.1 476,143.4 474.4,145.9 472.7,148.3 471.1,150.8 469.6,153.4 468.1,156 466.6,158.6 465.2,161.2 463.8,163.9 462.5,166.5 461.2,169.2 460.1,171.9 459.1,174.6 458.2,177.2 457.3,179.9 456.6,182.7 456,185.6 455.7,187.5M561.4,92.5 559.4,92.7 557.3,93.1 555.3,93.6 553.2,94.3 551.1,95.1 549,95.9 546.8,96.7 544.7,97.6 542.5,98.6 540.3,99.6 538.1,100.6 535.9,101.7 533.7,102.8 531.4,103.9 529.2,105.1 527,106.2 524.7,107.5 522.5,108.7 520.2,109.9 518,111.2 515.8,112.6 513.6,114.1 511.4,115.7 509.1,117.5 506.9,119.3 504.7,121.3 502.5,123.2 500.4,125.3 498.2,127.5 496.1,129.7 493.9,131.9 491.8,134.2 489.8,136.4 487.7,138.7 485.7,141.1 483.7,143.4 481.8,145.9 479.8,148.3 478,150.8 476.1,153.4 474.3,156 472.5,158.6 470.7,161.2 468.9,163.9 467.2,166.5 465.6,169.2 464,171.9 462.6,174.6 461.2,177.2 459.9,179.9 458.7,182.7 457.5,185.6 456.5,188.6 455.5,191.7 454.7,194.9 454,198 453.6,199.9M571,92.5 569.2,92.7 567.3,93.1 565.4,93.6 563.4,94.3 561.5,95.1 559.5,95.9 557.4,96.7 555.4,97.6 553.3,98.6 551.2,99.6 549,100.6 546.9,101.7 544.7,102.8 542.5,103.9 540.3,105.1 538.1,106.2 535.8,107.5 533.6,108.7 531.3,109.9 529.1,111.2 526.8,112.6 524.5,114.1 522.2,115.7 520,117.5 517.7,119.3 515.4,121.3 513.1,123.2 510.8,125.3 508.5,127.5 506.2,129.7 504,131.9 501.7,134.2 499.4,136.4 497.2,138.7 495,141.1 492.8,143.4 490.6,145.9 488.5,148.3 486.4,150.8 484.3,153.4 482.2,156 480.1,158.6 478,161.2 475.9,163.9 473.9,166.5 471.9,169.2 470,171.9 468.1,174.6 466.3,177.2 464.6,179.9 462.9,182.7 461.3,185.6 459.8,188.6 458.3,191.7 456.9,194.9 455.6,198 454.5,201.2 453.5,204.3 452.6,207.4 452,210.5 451.7,212.1M579.7,92.5 578.1,92.7 576.4,93.1 574.7,93.6 573,94.3 571.2,95.1 569.3,95.9 567.5,96.7 565.6,97.6 563.6,98.6 561.7,99.6 559.6,100.6 557.6,101.7 555.5,102.8 553.4,103.9 551.3,105.1 549.2,106.2 547,107.5 544.8,108.7 542.6,109.9 540.3,111.2 538.1,112.6 535.8,114.1 533.5,115.7 531.2,117.5 528.9,119.3 526.6,121.3 524.3,123.2 521.9,125.3 519.6,127.5 517.2,129.7 514.8,131.9 512.5,134.2 510.1,136.4 507.8,138.7 505.4,141.1 503.1,143.4 500.8,145.9 498.4,148.3 496.1,150.8 493.8,153.4 491.5,156 489.2,158.6 486.9,161.2 484.6,163.9 482.3,166.5 480,169.2 477.8,171.9 475.6,174.6 473.4,177.2 471.3,179.9 469.3,182.7 467.3,185.6 465.3,188.6 463.4,191.7 461.5,194.9 459.7,198 458,201.2 456.4,204.3 455,207.4 453.7,210.5 452.5,213.6 451.5,216.7 450.6,219.9 449.9,223.1 449.5,225.7M587.2,92.5 584.4,93.1 583,93.6 581.5,94.3 579.9,95.1 578.3,95.9 576.7,96.7 575,97.6 573.2,98.6 571.5,99.6 569.6,100.6 567.8,101.7 565.8,102.8 563.9,103.9 561.9,105.1 559.9,106.2 557.8,107.5 555.7,108.7 553.6,109.9 551.5,111.2 549.3,112.6 547.1,114.1 544.9,115.7 542.6,117.5 540.4,119.3 538.1,121.3 535.7,123.2 533.4,125.3 531.1,127.5 528.7,129.7 526.3,131.9 523.9,134.2 521.5,136.4 519.1,138.7 516.7,141.1 514.3,143.4 511.8,145.9 509.4,148.3 507,150.8 504.5,153.4 502.1,156 499.6,158.6 497.1,161.2 494.7,163.9 492.2,166.5 489.7,169.2 487.2,171.9 484.8,174.6 482.3,177.2 480,179.9 477.6,182.7 475.3,185.6 472.9,188.6 470.6,191.7 468.3,194.9 466.1,198 463.9,201.2 461.8,204.3 459.8,207.4 458,210.5 456.2,213.6 454.6,216.7 453.2,219.9 451.8,223.1 450.7,226.3 449.7,229.5 448.8,232.5 448,235.6 447.4,238.6 447,240.9M593.4,92.5 591.2,93.1 588.8,94.3 586.2,95.9 584.8,96.7 583.3,97.6 581.8,98.6 580.3,99.6 578.7,100.6 577.1,101.7 575.4,102.8 573.6,103.9 571.8,105.1 570,106.2 568.1,107.5 566.2,108.7 564.2,109.9 562.2,111.2 560.2,112.6 558.1,114.1 556,115.7 553.9,117.5 551.7,119.3 549.5,121.3 547.3,123.2 545,125.3 542.7,127.5 540.4,129.7 538.1,131.9 535.7,134.2 533.3,136.4 530.9,138.7 528.5,141.1 526,143.4 523.6,145.9 521.1,148.3 518.6,150.8 516.1,153.4 513.6,156 511,158.6 508.5,161.2 505.9,163.9 503.3,166.5 500.6,169.2 498,171.9 495.4,174.6 492.8,177.2 490.2,179.9 487.6,182.7 485,185.6 482.4,188.6 479.8,191.7 477.2,194.9 474.6,198 472,201.2 469.5,204.3 467.1,207.4 464.8,210.5 462.5,213.6 460.4,216.7 458.4,219.9 456.5,223.1 454.8,226.3 453.2,229.5 451.8,232.5 450.5,235.6 449.3,238.6 448.3,241.4 447.3,244.2 446.5,246.7 445.9,249.1 445.3,251.4 444.9,253.5 444.9,253.6M597.9,92.5 596.4,93.1 594.6,94.3 592.6,95.9 590.4,97.6 589.2,98.6 588,99.6 586.6,100.6 585.3,101.7 583.8,102.8 582.3,103.9 580.8,105.1 579.2,106.2 577.5,107.5 575.8,108.7 574.1,109.9 572.3,111.2 570.4,112.6 568.5,114.1 566.6,115.7 564.6,117.5 562.6,119.3 560.6,121.3 558.5,123.2 556.4,125.3 554.2,127.5 552,129.7 549.8,131.9 547.5,134.2 545.2,136.4 542.8,138.7 540.5,141.1 538.1,143.4 535.6,145.9 533.2,148.3 530.7,150.8 528.2,153.4 525.7,156 523.1,158.6 520.5,161.2 517.9,163.9 515.3,166.5 512.6,169.2 509.9,171.9 507.2,174.6 504.4,177.2 501.7,179.9 499,182.7 496.2,185.6 493.5,188.6 490.6,191.7 487.8,194.9 484.9,198 482.1,201.2 479.3,204.3 476.6,207.4 473.8,210.5 471.2,213.6 468.6,216.7 466.2,219.9 463.8,223.1 461.6,226.3 459.6,229.5 457.6,232.5 455.8,235.6 454.1,238.6 452.5,241.4 451,244.2 449.7,246.7 448.5,249.1 447.4,251.4 446.5,253.5 445.6,255.5 444.9,257.5 444.3,259.3 443.8,261.1 443.5,262.8 443.3,263.8M600.8,92.5 599.4,93.6 598.3,95.1 596.8,96.7 595.1,98.6 593.2,100.6 592.1,101.7 591,102.8 589.8,103.9 588.5,105.1 587.2,106.2 585.8,107.5 584.4,108.7 582.9,109.9 581.3,111.2 579.7,112.6 578.1,114.1 576.4,115.7 574.6,117.5 572.9,119.3 571,121.3 569.1,123.2 567.2,125.3 565.2,127.5 563.2,129.7 561.1,131.9 559,134.2 556.8,136.4 554.6,138.7 552.4,141.1 550.1,143.4 547.7,145.9 545.4,148.3 543,150.8 540.5,153.4 538.1,156 535.6,158.6 533,161.2 530.5,163.9 527.8,166.5 525.2,169.2 522.5,171.9 519.8,174.6 517,177.2 514.2,179.9 511.4,182.7 508.6,185.6 505.7,188.6 502.8,191.7 499.9,194.9 496.9,198 493.9,201.2 490.9,204.3 487.9,207.4 484.9,210.5 482,213.6 479.1,216.7 476.3,219.9 473.5,223.1 470.9,226.3 468.4,229.5 466.1,232.5 463.8,235.6 461.6,238.6 459.5,241.4 457.6,244.2 455.7,246.7 454,249.1 452.4,251.4 450.9,253.5 449.5,255.5 448.3,257.5 447.2,259.3 446.2,261.1 445.3,262.8 444.5,264.4 443.8,265.9 443.2,267.4 442.3,270.1 442,271.6M601.9,92.5 601.4,94.3 600.8,95.9 600,97.6 598.9,99.6 597.5,101.7 595.8,103.9 593.9,106.2 592.8,107.5 591.7,108.7 590.5,109.9 589.2,111.2 587.9,112.6 586.5,114.1 585.1,115.7 583.6,117.5 582.1,119.3 580.5,121.3 578.9,123.2 577.2,125.3 575.5,127.5 573.7,129.7 571.8,131.9 569.9,134.2 567.9,136.4 565.9,138.7 563.8,141.1 561.7,143.4 559.5,145.9 557.3,148.3 555.1,150.8 552.8,153.4 550.4,156 548.1,158.6 545.6,161.2 543.2,163.9 540.7,166.5 538.1,169.2 535.5,171.9 532.8,174.6 530.1,177.2 527.4,179.9 524.6,182.7 521.8,185.6 518.9,188.6 516,191.7 513,194.9 510,198 506.9,201.2 503.8,204.3 500.7,207.4 497.6,210.5 494.5,213.6 491.4,216.7 488.3,219.9 485.3,223.1 482.4,226.3 479.5,229.5 476.8,232.5 474.2,235.6 471.6,238.6 469.1,241.4 466.7,244.2 464.4,246.7 462.2,249.1 460.1,251.4 458.1,253.5 456.3,255.5 454.5,257.5 452.9,259.3 451.4,261.1 450,262.8 448.7,264.4 447.5,265.9 446.4,267.4 445.4,268.8 444.5,270.1 443,272.3 441.9,274.3 441.7,274.7M602.2,94.6 602.3,96.7 602.1,98.6 601.5,100.6 600.7,102.8 599.6,105.1 598.2,107.5 596.6,109.9 595.6,111.2 594.6,112.6 593.6,114.1 592.5,115.7 591.3,117.5 590.1,119.3 588.8,121.3 587.5,123.2 586.1,125.3 584.6,127.5 583.1,129.7 581.5,131.9 579.9,134.2 578.2,136.4 576.4,138.7 574.6,141.1 572.7,143.4 570.7,145.9 568.7,148.3 566.7,150.8 564.6,153.4 562.4,156 560.2,158.6 558,161.2 555.7,163.9 553.4,166.5 551,169.2 548.5,171.9 546,174.6 543.5,177.2 540.8,179.9 538.2,182.7 535.4,185.6 532.6,188.6 529.8,191.7 526.9,194.9 523.9,198 520.9,201.2 517.8,204.3 514.7,207.4 511.5,210.5 508.3,213.6 505.1,216.7 501.9,219.9 498.7,223.1 495.6,226.3 492.5,229.5 489.5,232.5 486.6,235.6 483.7,238.6 480.9,241.4 478.1,244.2 475.4,246.7 472.8,249.1 470.3,251.4 467.9,253.5 465.6,255.5 463.4,257.5 461.3,259.3 459.3,261.1 457.4,262.8 455.6,264.4 453.9,265.9 452.3,267.4 450.8,268.8 449.4,270.1 448.1,271.3 447,272.3 445.9,273.4 444,274.7M602.9,98.8 603.1,100.6 603,102.8 602.7,105.1 602,107.5 601.1,109.9 599.8,112.6 599.1,114.1 598.4,115.7 597.6,117.5 596.7,119.3 595.8,121.3 594.7,123.2 593.7,125.3 592.5,127.5 591.3,129.7 590.1,131.9 588.7,134.2 587.3,136.4 585.8,138.7 584.3,141.1 582.7,143.4 581,145.9 579.3,148.3 577.5,150.8 575.6,153.4 573.7,156 571.8,158.6 569.8,161.2 567.7,163.9 565.6,166.5 563.5,169.2 561.2,171.9 558.9,174.6 556.6,177.2 554.1,179.9 551.6,182.7 549.1,185.6 546.4,188.6 543.8,191.7 541,194.9 538.2,198 535.3,201.2 532.4,204.3 529.3,207.4 526.2,210.5 523.1,213.6 519.9,216.7 516.7,219.9 513.4,223.1 510.2,226.3 507,229.5 503.8,232.5 500.7,235.6 497.5,238.6 494.5,241.4 491.4,244.2 488.4,246.7 485.5,249.1 482.7,251.4 479.9,253.5 477.2,255.5 474.6,257.5 472.1,259.3 469.7,261.1 467.4,262.8 465.1,264.4 463,265.9 460.9,267.4 459,268.8 457.1,270.1 455.3,271.3 453.6,272.3 452.1,273.4 450.6,274.3 449.2,274.7M603.8,104 604,106.2 603.9,108.7 603.6,111.2 603,114.1 602.6,115.7 602.2,117.5 601.7,119.3 601.1,121.3 600.4,123.2 599.7,125.3 598.9,127.5 598.1,129.7 597.2,131.9 596.2,134.2 595.1,136.4 593.9,138.7 592.7,141.1 591.4,143.4 590.1,145.9 588.6,148.3 587.1,150.8 585.6,153.4 584,156 582.3,158.6 580.6,161.2 578.9,163.9 577.1,166.5 575.2,169.2 573.2,171.9 571.2,174.6 569.1,177.2 566.9,179.9 564.7,182.7 562.3,185.6 560,188.6 557.5,191.7 555,194.9 552.5,198 549.8,201.2 547,204.3 544.2,207.4 541.3,210.5 538.3,213.6 535.2,216.7 532.1,219.9 528.9,223.1 525.7,226.3 522.4,229.5 519.2,232.5 515.9,235.6 512.7,238.6 509.4,241.4 506.2,244.2 503,246.7 499.9,249.1 496.8,251.4 493.7,253.5 490.7,255.5 487.8,257.5 485,259.3 482.2,261.1 479.5,262.8 476.9,264.4 474.4,265.9 471.9,267.4 469.5,268.8 467.2,270.1 465,271.3 462.9,272.3 460.8,273.4 458.8,274.3 457,274.7M604.7,109.9 605,112.6 605,115.7 605,117.5 604.9,119.3 604.7,121.3 604.4,123.2 604,125.3 603.6,127.5 603.2,129.7 602.6,131.9 602,134.2 601.3,136.4 600.5,138.7 599.6,141.1 598.7,143.4 597.7,145.9 596.6,148.3 595.5,150.8 594.3,153.4 593,156 591.7,158.6 590.3,161.2 588.9,163.9 587.4,166.5 585.9,169.2 584.2,171.9 582.5,174.6 580.7,177.2 578.9,179.9 576.9,182.7 574.9,185.6 572.8,188.6 570.7,191.7 568.5,194.9 566.2,198 563.8,201.2 561.4,204.3 558.8,207.4 556.2,210.5 553.4,213.6 550.5,216.7 547.6,219.9 544.6,223.1 541.5,226.3 538.3,229.5 535.1,232.5 531.9,235.6 528.6,238.6 525.3,241.4 522,244.2 518.7,246.7 515.5,249.1 512.2,251.4 509,253.5 505.8,255.5 502.6,257.5 499.5,259.3 496.5,261.1 493.5,262.8 490.5,264.4 487.7,265.9 484.9,267.4 482.1,268.8 479.5,270.1 476.9,271.3 474.3,272.3 471.9,273.4 469.5,274.3 467.2,274.7M605.9,117.3 606.2,119.3 606.4,121.3 606.5,123.2 606.6,125.3 606.6,127.5 606.5,129.7 606.3,131.9 606.1,134.2 605.7,136.4 605.3,138.7 604.9,141.1 604.3,143.4 603.7,145.9 603,148.3 602.2,150.8 601.4,153.4 600.5,156 599.5,158.6 598.5,161.2 597.5,163.9 596.3,166.5 595.2,169.2 593.9,171.9 592.5,174.6 591.1,177.2 589.6,179.9 588,182.7 586.3,185.6 584.6,188.6 582.8,191.7 581,194.9 579.1,198 577.1,201.2 575,204.3 572.7,207.4 570.4,210.5 568,213.6 565.4,216.7 562.8,219.9 560,223.1 557.1,226.3 554.1,229.5 551.1,232.5 548,235.6 544.8,238.6 541.6,241.4 538.3,244.2 535,246.7 531.7,249.1 528.4,251.4 525.1,253.5 521.8,255.5 518.5,257.5 515.2,259.3 512,261.1 508.8,262.8 505.6,264.4 502.5,265.9 499.4,267.4 496.4,268.8 493.5,270.1 490.5,271.3 487.7,272.3 484.9,273.4 482.2,274.3 479.5,274.7M607.5,127.1 607.9,129.7 608.1,131.9 608.3,134.2 608.3,136.4 608.3,138.7 608.3,141.1 608.1,143.4 607.9,145.9 607.6,148.3 607.2,150.8 606.7,153.4 606.2,156 605.7,158.6 605.1,161.2 604.4,163.9 603.6,166.5 602.8,169.2 601.9,171.9 601,174.6 599.9,177.2 598.8,179.9 597.6,182.7 596.3,185.6 595,188.6 593.6,191.7 592.2,194.9 590.7,198 589.1,201.2 587.4,204.3 585.5,207.4 583.6,210.5 581.6,213.6 579.4,216.7 577.1,219.9 574.7,223.1 572.1,226.3 569.4,229.5 566.6,232.5 563.7,235.6 560.7,238.6 557.6,241.4 554.5,244.2 551.4,246.7 548.1,249.1 544.9,251.4 541.6,253.5 538.3,255.5 535,257.5 531.6,259.3 528.3,261.1 525,262.8 521.7,264.4 518.4,265.9 515.2,267.4 512,268.8 508.8,270.1 505.6,271.3 502.5,272.3 499.5,273.4 496.5,274.3 493.5,274.7M609.3,138.2 609.7,141.1 610,143.4 610.1,145.9 610.2,148.3 610.3,150.8 610.2,153.4 610.1,156 609.9,158.6 609.7,161.2 609.4,163.9 609.1,166.5 608.7,169.2 608.2,171.9 607.6,174.6 607,177.2 606.2,179.9 605.4,182.7 604.6,185.6 603.7,188.6 602.7,191.7 601.7,194.9 600.6,198 599.5,201.2 598.2,204.3 596.8,207.4 595.3,210.5 593.7,213.6 592,216.7 590.1,219.9 588.1,223.1 585.9,226.3 583.6,229.5 581.1,232.5 578.5,235.6 575.8,238.6 573,241.4 570.1,244.2 567.2,246.7 564.2,249.1 561.1,251.4 557.9,253.5 554.7,255.5 551.5,257.5 548.2,259.3 544.9,261.1 541.6,262.8 538.2,264.4 534.9,265.9 531.6,267.4 528.3,268.8 525,270.1 521.7,271.3 518.4,272.3 515.2,273.4 512,274.3 508.8,274.7M611.3,150.2 611.7,153.4 612,156 612.2,158.6 612.4,161.2 612.5,163.9 612.5,166.5 612.5,169.2 612.4,171.9 612.3,174.6 612,177.2 611.7,179.9 611.3,182.7 610.9,185.6 610.4,188.6 609.9,191.7 609.3,194.9 608.6,198 607.9,201.2 607.1,204.3 606.2,207.4 605.2,210.5 604,213.6 602.7,216.7 601.3,219.9 599.8,223.1 598.1,226.3 596.2,229.5 594.1,232.5 591.9,235.6 589.6,238.6 587.2,241.4 584.7,244.2 582,246.7 579.3,249.1 576.5,251.4 573.6,253.5 570.6,255.5 567.5,257.5 564.4,259.3 561.2,261.1 558,262.8 554.7,264.4 551.4,265.9 548.1,267.4 544.8,268.8 541.5,270.1 538.2,271.3 534.9,272.3 531.6,273.4 528.3,274.3 525,274.7M613.6,164.3 613.9,166.5 614.3,169.2 614.6,171.9 614.8,174.6 614.9,177.2 615,179.9 615,182.7 615,185.6 615,188.6 614.9,191.7 614.7,194.9 614.5,198 614.2,201.2 613.8,204.3 613.4,207.4 612.8,210.5 612.2,213.6 611.4,216.7 610.5,219.9 609.4,223.1 608.2,226.3 606.8,229.5 605.2,232.5 603.5,235.6 601.7,238.6 599.7,241.4 597.6,244.2 595.4,246.7 593,249.1 590.6,251.4 588,253.5 585.3,255.5 582.5,257.5 579.7,259.3 576.7,261.1 573.7,262.8 570.6,264.4 567.5,265.9 564.3,267.4 561.1,268.8 557.9,270.1 554.6,271.3 551.4,272.3 548.1,273.4 544.8,274.3 541.5,274.7M616.2,180.3 616.5,182.7 616.9,185.6 617.2,188.6 617.5,191.7 617.8,194.9 618,198 618.1,201.2 618.2,204.3 618.2,207.4 618.1,210.5 617.9,213.6 617.6,216.7 617.2,219.9 616.7,223.1 616,226.3 615.1,229.5 614.1,232.5 612.9,235.6 611.6,238.6 610.1,241.4 608.5,244.2 606.8,246.7 604.9,249.1 602.9,251.4 600.8,253.5 598.5,255.5 596.1,257.5 593.6,259.3 591,261.1 588.3,262.8 585.5,264.4 582.6,265.9 579.7,267.4 576.7,268.8 573.6,270.1 570.5,271.3 567.4,272.3 564.2,273.4 561,274.3 557.8,274.7M619.3,199.8 620,204.3 620.4,207.4 620.7,210.5 621,213.6 621.2,216.7 621.3,219.9 621.3,223.1 621.1,226.3 620.8,229.5 620.4,232.5 619.8,235.6 619,238.6 618.1,241.4 617.1,244.2 615.9,246.7 614.6,249.1 613.1,251.4 611.4,253.5 609.6,255.5 607.7,257.5 605.6,259.3 603.5,261.1 601.2,262.8 598.7,264.4 596.2,265.9 593.6,267.4 591,268.8 588.2,270.1 585.4,271.3 582.5,272.3 579.5,273.4 576.5,274.3 573.5,274.7M622.7,220.5 623.1,223.1 623.5,226.3 623.8,229.5 623.9,232.5 623.9,235.6 623.8,238.6 623.5,241.4 623,244.2 622.4,246.7 621.6,249.1 620.7,251.4 619.7,253.5 618.4,255.5 617,257.5 615.5,259.3 613.8,261.1 612,262.8 610.1,264.4 608,265.9 605.8,267.4 603.6,268.8 601.2,270.1 598.7,271.3 596.2,272.3 593.6,273.4 590.9,274.3 588.1,274.7M625.3,236.7 625.6,238.6 625.9,241.4 626.1,244.2 626.1,246.7 626,249.1 625.7,251.4 625.2,253.5 624.6,255.5 623.8,257.5 622.8,259.3 621.7,261.1 620.5,262.8 619.1,264.4 617.5,265.9 615.9,267.4 614.1,268.8 612.2,270.1 610.2,271.3 608.1,272.3 605.8,273.4 603.5,274.3 601.1,274.7M627.4,249.5 627.7,251.4 627.8,253.5 627.8,255.5 627.7,257.5 627.4,259.3 626.9,261.1 626.3,262.8 625.5,264.4 624.5,265.9 623.4,267.4 622.2,268.8 620.8,270.1 619.4,271.3 617.7,272.3 616,273.4 614.2,274.3 612.2,274.7M628.9,258.9 629.2,261.1 629.2,262.8 629,264.4 628.7,265.9 628.3,267.4 627.7,268.8 626.9,270.1 624.9,272.3 623.8,273.4 622.4,274.3 621,274.7M630.1,266.2 630.3,268.8 629.9,271.3 628.9,273.4 627.2,274.7M631.1,272 631.1,274.3 630.7,274.7"/>
<path d="M441.5,274.7H631.5"/>
<rect x="498.4" y="32.4" width="76.2" height="9.7" rx="1.2" fill="#fff"/>
<rect x="491" y="42.1" width="91" height="35.5" rx="1.5" fill="#fff"/>
<rect x="475.6" y="77.6" width="121.8" height="14.7" fill="#fff"/>
</g>
<path d="M82.6,32.4H165M83,274.7H108M84.7,54V253.5"/>
<path d="M166.7,392.1H573.4M166.7,416.9H573.4" stroke-width="1.3"/>
<circle stroke-width="1.1" cx="369.6" cy="404.6" r="23" fill="#fff"/>
<rect x="147.6" y="391.4" width="19.1" height="27.2" rx="1.2"/>
<path d="M147.6,394.3H143.9V415.4H147.6"/>
<rect x="573.4" y="391.4" width="17.5" height="27.2" rx="1.2"/>
<path d="M590.9,394.3H595.5V415.4H590.9"/>
<path d="M312.4,362 C312.8,368 314.5,373 318,376.2 C322,379.6 328,380.6 334,381.2 C340,381.8 345,382.6 349,384.6 H390 C394,382.6 399,381.8 405,381.2 C411,380.6 417,379.6 421,376.2 C424.5,373 426,368 426.4,362 Z" fill="#fff"/>
<rect x="363.7" y="362" width="11.5" height="14.9"/>
<rect x="271.7" y="332" width="196.9" height="30" fill="#fff"/>
<path d="M349,385.5H498M468.6,332H498"/>
<path d="M495.8,354V362.5"/>
<path d="M419.5,354V602.5M417.4,624.6H536"/>
<path d="M108,530V662M631.2,530V662M130,660H337M408.8,660H609"/>
<circle stroke-width="1.1" cx="203" cy="530" r="95" fill="#fff"/>
<path stroke-width="1.2" d="M219,436.4L276.1,469.3M197.9,435.1L287.7,487M182.5,437.2L293.6,501.4M169.9,440.9L213.9,466.3M252.7,488.7L296.7,514.1M159.2,445.7L194.3,466M262.8,505.5L297.9,525.8M149.8,451.3L181,469.3M266.6,518.7L297.8,536.7M141.6,457.5L170.5,474.2M267.6,530.2L296.5,546.9M134.4,464.3L161.9,480.2M266.7,540.7L294.2,556.6M128.1,471.6L154.8,487M264.3,550.3L291,565.7M122.6,479.4L148.9,494.6M260.7,559.1L287,574.3M117.9,487.7L144.3,502.9M255.8,567.3L282.2,582.5M114.1,496.5L141,512M249.6,574.7L276.5,590.2M111.2,505.7L138.9,521.8M242.2,581.4L269.9,597.4M109.1,515.5L138.4,532.5M233.2,587.1L262.5,604.1M108.1,525.9L140,544.3M222.1,591.7L254,610.1M108.3,537L144.8,558.1M207.8,594.4L244.3,615.5M109.9,548.9L158.8,577.1M184.3,591.8L233.2,620.1M113.5,561.9L220.1,623.5M120.4,576.9L203.7,625M134.9,596.2L179.7,622.1M108.6,519.8L146.9,453.3M108.4,539L163.5,443.6M111,553.6L177.4,438.5M115,565.7L138.6,524.7M166.2,476.9L189.9,435.9M119.9,576.1L139.5,542.1M181.8,469L201.4,435M125.7,585.2L143.3,554.6M194.5,466L212.1,435.4M132,593.1L148.5,564.6M205.7,465.5L222.2,437M138.9,600.2L154.7,572.9M216,466.7L231.7,439.4M146.4,606.3L161.7,579.7M225.4,469.4L240.7,442.8M154.3,611.6L169.5,585.2M234.1,473.4L249.3,447M162.7,616L178,589.6M242.1,478.5L257.3,452.1M171.6,619.6L187.2,592.6M249.3,485L264.9,458M180.9,622.4L197.1,594.3M255.8,492.8L272,464.7M190.9,624.2L208.1,594.4M261.3,502.2L278.5,472.4M201.4,625L220.3,592.2M265.6,513.9L284.5,481.1M212.6,624.5L234.7,586.3M267.6,529.3L289.7,491.1M224.8,622.5L294,502.6M238.2,618.2L297,516.4M253.7,610.3L297.9,533.8M275.9,590.9L292.2,562.7"/>
<circle stroke-width="1.1" cx="203" cy="530" r="64.6"/>
<circle stroke-width="1.1" cx="203" cy="530" r="60.6"/>
<circle stroke-width="1.1" cx="203" cy="530" r="45.4"/>
<circle stroke-width="1.1" cx="203" cy="530" r="37.9"/>
<path d="M195.5,481 V405 A7.5,7.5 0 0 1 210.5,405 V481" fill="#fff"/>
<rect x="192.2" y="481" width="21.6" height="3.4" rx="1.5" fill="#fff" stroke-width="1.1"/>
<circle stroke-width="1.1" cx="536.2" cy="530" r="95" fill="#fff"/>
<path stroke-width="1.2" d="M552.2,436.4L609.3,469.3M531.1,435.1L620.9,487M515.7,437.2L626.8,501.4M503.1,440.9L547.1,466.3M585.9,488.7L629.9,514.1M492.4,445.7L527.5,466M596,505.5L631.1,525.8M483,451.3L514.2,469.3M599.8,518.7L631,536.7M474.8,457.5L503.7,474.2M600.8,530.2L629.7,546.9M467.6,464.3L495.1,480.2M599.9,540.7L627.4,556.6M461.3,471.6L488,487M597.5,550.3L624.2,565.7M455.8,479.4L482.1,494.6M593.9,559.1L620.2,574.3M451.1,487.7L477.5,502.9M589,567.3L615.4,582.5M447.3,496.5L474.2,512M582.8,574.7L609.7,590.2M444.4,505.7L472.1,521.8M575.4,581.4L603.1,597.4M442.3,515.5L471.6,532.5M566.4,587.1L595.7,604.1M441.3,525.9L473.2,544.3M555.3,591.7L587.2,610.1M441.5,537L478,558.1M541,594.4L577.5,615.5M443.1,548.9L492,577.1M517.5,591.8L566.4,620.1M446.7,561.9L553.3,623.5M453.6,576.9L536.9,625M468.1,596.2L512.9,622.1M441.8,519.8L480.1,453.3M441.6,539L496.7,443.6M444.2,553.6L510.6,438.5M448.2,565.7L471.8,524.7M499.4,476.9L523.1,435.9M453.1,576.1L472.7,542.1M515,469L534.6,435M458.9,585.2L476.5,554.6M527.7,466L545.3,435.4M465.2,593.1L481.7,564.6M538.9,465.5L555.4,437M472.1,600.2L487.9,572.9M549.2,466.7L564.9,439.4M479.6,606.3L494.9,579.7M558.6,469.4L573.9,442.8M487.5,611.6L502.7,585.2M567.3,473.4L582.5,447M495.9,616L511.2,589.6M575.3,478.5L590.5,452.1M504.8,619.6L520.4,592.6M582.5,485L598.1,458M514.1,622.4L530.3,594.3M589,492.8L605.2,464.7M524.1,624.2L541.3,594.4M594.5,502.2L611.7,472.4M534.6,625L553.5,592.2M598.8,513.9L617.7,481.1M545.8,624.5L567.9,586.3M600.8,529.3L622.9,491.1M558,622.5L627.2,502.6M571.4,618.2L630.2,516.4M586.9,610.3L631.1,533.8M609.1,590.9L625.4,562.7"/>
<circle stroke-width="1.1" cx="536.2" cy="530" r="64.6"/>
<circle stroke-width="1.1" cx="536.2" cy="530" r="60.6"/>
<circle stroke-width="1.1" cx="536.2" cy="530" r="45.4"/>
<circle stroke-width="1.1" cx="536.2" cy="530" r="37.9"/>
<path d="M528.7,481 V405 A7.5,7.5 0 0 1 543.7,405 V481" fill="#fff"/>
<rect x="525.4" y="481" width="21.6" height="3.4" rx="1.5" fill="#fff" stroke-width="1.1"/>
</g>
<g fill="#000" stroke="none">
<path d="M84.7,33.8 L88.2,54.6 L81.2,54.6 Z"/>
<path d="M84.7,273.8 L81.2,252.9 L88.2,252.9 Z"/>
<path d="M403.6,53.1 L399.9,73.1 L393.3,70.6 Z"/>
<path d="M335.3,236 L339,216 L345.6,218.5 Z"/>
<path d="M419.5,333.6 L423,354.3 L416,354.3 Z"/>
<path d="M419.5,623.2 L416,602 L423,602 Z"/>
<path d="M495.8,333.4 L499.3,354.4 L492.3,354.4 Z"/>
<path d="M495.8,384.4 L492.3,362.1 L499.3,362.1 Z"/>
<path d="M110,660 L130.8,656.7 L130.8,663.3 Z"/>
<path d="M630,660 L608.2,663.3 L608.2,656.7 Z"/>
</g>
<g fill="#111" font-family="'Liberation Sans', sans-serif" font-size="22.2">
<text transform="translate(82.3,187.6) rotate(-90) scale(0.955,1)">160mm</text>
<text transform="translate(416.8,513.3) rotate(-90) scale(0.955,1)">193mm</text>
<text transform="translate(528.8,387) rotate(-90) scale(0.955,1)">35mm</text>
<text transform="translate(337.3,666.7) rotate(0) scale(0.955,1)">345mm</text>
<text transform="translate(309.7,324.2) rotate(-69.5) scale(0.955,1)">Ø130mm</text>
</g>
</svg>
</body>
</html>
